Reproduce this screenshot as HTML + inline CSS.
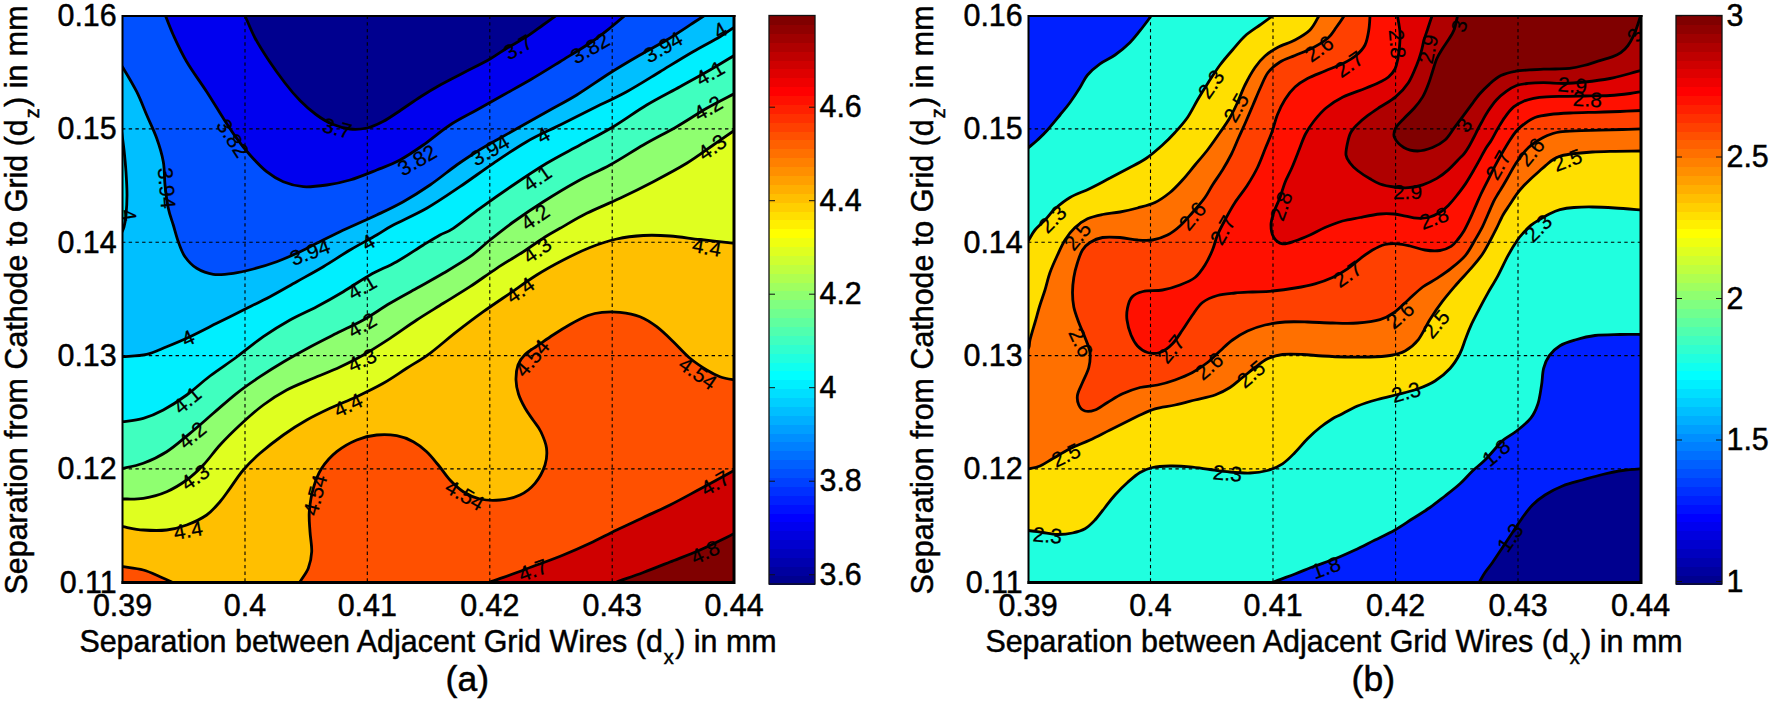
<!DOCTYPE html>
<html lang="en"><head><meta charset="utf-8"><title>Contour plots</title>
<style>html,body{margin:0;padding:0;background:#fff}svg{display:block}text{font-family:"Liberation Sans",Arial,Helvetica,sans-serif;fill:#000}.t{font-size:32px;stroke:#000;stroke-width:.5px}.l{font-size:32px;stroke:#000;stroke-width:.5px}.c{font-size:21px;stroke:#000;stroke-width:.25px}.k{fill:none;stroke:#000;stroke-width:2.8;stroke-linejoin:round;stroke-linecap:butt}.g{stroke:#000;stroke-width:1.1;stroke-dasharray:3.4 3.3;fill:none}</style></head><body>
<svg width="1770" height="703" viewBox="0 0 1770 703">
<rect width="1770" height="703" fill="#fff"/>
<clipPath id="cpa"><rect x="122.0" y="15.5" width="612.5" height="567.5"/></clipPath>
<g clip-path="url(#cpa)">
<path d="M118 10 H740 V590 H118 Z" fill="#800000"/>
<path d="M600.0 588.0 C602.8 587.0 609.5 584.6 616.7 582.0 C623.9 579.4 634.4 575.8 643.3 572.5 C652.2 569.2 660.5 565.8 670.0 562.0 C679.5 558.2 689.2 554.8 700.0 550.0 C710.8 545.2 728.3 536.5 735.0 533.3 C741.7 530.1 739.2 531.4 740.0 531.0 L740.0 10.0 L118.0 10.0 L118.0 590.0 Z" fill="#cf0000"/>
<path d="M475.0 588.0 C477.5 587.0 484.2 584.2 490.0 582.0 C495.8 579.8 502.2 577.8 510.0 575.0 C517.8 572.2 527.8 568.3 536.7 565.0 C545.6 561.7 554.4 558.6 563.3 555.0 C572.2 551.4 581.1 547.5 590.0 543.3 C598.9 539.1 607.8 534.3 616.7 530.0 C625.6 525.7 634.4 521.7 643.3 517.5 C652.2 513.3 660.5 509.8 670.0 505.0 C679.5 500.2 689.2 494.8 700.0 489.0 C710.8 483.2 728.3 473.7 735.0 470.0 C741.7 466.3 739.2 467.5 740.0 467.0 L740.0 10.0 L118.0 10.0 L118.0 590.0 Z" fill="#ff5000"/>
<path d="M297.0 590.0 C297.5 588.7 298.1 585.6 300.0 582.0 C301.9 578.4 306.4 573.3 308.3 568.3 C310.2 563.2 311.4 557.8 311.7 551.7 C312.0 545.6 310.4 538.4 310.0 531.7 C309.6 525.0 308.8 518.9 309.3 511.7 C309.9 504.5 311.2 495.5 313.3 488.3 C315.4 481.1 317.8 474.4 321.7 468.3 C325.6 462.2 330.9 456.4 336.7 451.7 C342.5 447.0 350.0 442.8 356.7 440.0 C363.4 437.2 370.0 435.7 376.7 435.0 C383.4 434.3 390.6 434.6 396.7 435.7 C402.8 436.8 408.3 439.0 413.3 441.7 C418.3 444.4 422.5 447.8 426.7 451.7 C430.9 455.6 434.4 460.3 438.3 465.0 C442.2 469.7 445.8 475.6 450.0 480.0 C454.2 484.4 458.3 488.5 463.3 491.7 C468.3 494.9 473.9 497.6 480.0 499.0 C486.1 500.4 493.3 500.7 500.0 500.0 C506.7 499.3 514.2 497.8 520.0 495.0 C525.8 492.2 530.8 488.3 535.0 483.3 C539.2 478.3 543.1 470.9 545.0 465.0 C546.9 459.1 547.2 453.5 546.5 448.0 C545.8 442.5 543.2 436.7 541.0 432.0 C538.8 427.3 535.7 424.0 533.0 420.0 C530.3 416.0 527.4 412.3 525.0 408.0 C522.6 403.7 520.0 398.7 518.5 394.0 C517.0 389.3 516.1 384.8 516.0 380.0 C515.9 375.2 516.5 369.2 518.0 365.0 C519.5 360.8 521.8 357.7 525.0 354.5 C528.2 351.3 532.3 349.2 537.0 346.0 C541.7 342.8 547.5 338.6 553.0 335.0 C558.5 331.4 564.2 327.8 570.0 324.5 C575.8 321.2 582.7 317.5 588.0 315.5 C593.3 313.5 596.7 312.8 602.0 312.3 C607.3 311.8 613.7 311.6 620.0 312.3 C626.3 313.0 633.9 314.3 640.0 316.7 C646.1 319.1 651.2 322.5 656.7 326.7 C662.2 330.9 667.8 336.4 673.3 341.7 C678.8 347.0 684.4 353.6 690.0 358.3 C695.6 363.0 701.7 366.9 706.7 370.0 C711.7 373.1 715.3 375.0 720.0 376.7 C724.7 378.4 731.7 379.4 735.0 380.0 C738.3 380.6 739.2 380.4 740.0 380.5 L740.0 10.0 L118.0 10.0 L118.0 590.0 Z" fill="#ffbf00"/>
<path d="M118.0 566.0 C118.8 566.1 118.8 566.0 123.0 566.7 C127.2 567.4 137.1 568.3 143.3 570.0 C149.5 571.7 155.3 574.7 160.0 576.7 C164.7 578.7 168.7 580.5 171.7 582.0 C174.7 583.5 176.9 585.3 178.0 586.0 L118.0 590.0 Z" fill="#ff5000"/>
<path d="M118.0 526.0 C118.8 526.1 118.8 526.0 123.0 526.7 C127.2 527.4 136.0 529.5 143.3 530.0 C150.6 530.5 159.5 530.8 166.7 530.0 C173.9 529.2 180.0 527.5 186.7 525.0 C193.4 522.5 201.1 518.9 206.7 515.0 C212.2 511.1 216.1 506.1 220.0 501.7 C223.9 497.2 226.1 493.6 230.0 488.3 C233.9 483.0 238.3 475.8 243.3 470.0 C248.3 464.2 253.3 459.1 260.0 453.3 C266.7 447.5 275.5 440.6 283.3 435.0 C291.1 429.4 298.9 424.4 306.7 420.0 C314.5 415.6 321.7 412.2 330.0 408.3 C338.3 404.4 347.8 400.9 356.7 396.7 C365.6 392.5 375.0 388.0 383.3 383.3 C391.6 378.6 398.9 373.3 406.7 368.3 C414.5 363.3 421.7 359.4 430.0 353.3 C438.3 347.2 447.8 338.6 456.7 331.7 C465.6 324.8 474.4 318.1 483.3 311.7 C492.2 305.3 501.1 299.4 510.0 293.3 C518.9 287.2 527.8 280.6 536.7 275.0 C545.6 269.4 554.4 264.6 563.3 260.0 C572.2 255.4 581.1 251.0 590.0 247.5 C598.9 244.0 607.8 241.0 616.7 239.0 C625.6 237.0 634.4 236.0 643.3 235.5 C652.2 235.0 660.5 235.3 670.0 236.0 C679.5 236.7 689.2 238.3 700.0 239.5 C710.8 240.7 728.3 242.6 735.0 243.3 C741.7 244.1 739.2 243.9 740.0 244.0 L740.0 10.0 L118.0 10.0 Z" fill="#dfff20"/>
<path d="M118.0 499.0 C118.8 499.0 118.8 499.1 123.0 499.0 C127.2 498.9 136.0 499.5 143.3 498.3 C150.6 497.1 159.5 494.8 166.7 491.7 C173.9 488.6 180.6 484.4 186.7 480.0 C192.8 475.6 197.8 470.8 203.3 465.0 C208.9 459.2 213.9 451.7 220.0 445.0 C226.1 438.3 232.8 431.7 240.0 425.0 C247.2 418.3 255.5 410.8 263.3 405.0 C271.1 399.2 278.4 394.4 286.7 390.0 C295.0 385.6 304.4 382.1 313.3 378.3 C322.2 374.5 331.7 370.9 340.0 367.0 C348.3 363.1 355.0 359.8 363.3 355.0 C371.6 350.2 381.1 344.1 390.0 338.3 C398.9 332.5 407.8 325.8 416.7 320.0 C425.6 314.2 434.4 308.9 443.3 303.3 C452.2 297.8 461.1 292.5 470.0 286.7 C478.9 280.9 487.8 274.1 496.7 268.3 C505.6 262.5 515.2 256.9 523.3 251.7 C531.3 246.5 538.9 240.9 545.0 237.0 C551.1 233.1 553.0 232.2 560.0 228.3 C567.0 224.4 576.7 218.3 586.7 213.3 C596.7 208.3 608.9 203.6 620.0 198.3 C631.1 193.0 642.2 187.5 653.3 181.7 C664.4 175.9 676.7 169.4 686.7 163.3 C696.7 157.2 705.2 150.6 713.3 145.0 C721.3 139.4 730.5 133.1 735.0 130.0 C739.5 126.9 739.2 127.1 740.0 126.5 L740.0 10.0 L118.0 10.0 Z" fill="#8fff70"/>
<path d="M118.0 469.0 C118.8 468.9 118.8 469.2 123.0 468.3 C127.2 467.4 136.0 466.1 143.3 463.3 C150.6 460.5 158.9 456.7 166.7 451.7 C174.5 446.7 182.2 439.7 190.0 433.3 C197.8 426.9 205.5 420.0 213.3 413.3 C221.1 406.6 228.9 399.4 236.7 393.3 C244.5 387.2 252.2 381.9 260.0 376.7 C267.8 371.5 275.0 366.9 283.3 362.0 C291.6 357.1 301.1 351.8 310.0 347.0 C318.9 342.2 327.8 337.8 336.7 333.3 C345.6 328.8 354.4 325.0 363.3 320.0 C372.2 315.0 381.1 308.6 390.0 303.3 C398.9 298.0 407.8 293.3 416.7 288.3 C425.6 283.3 434.4 278.6 443.3 273.3 C452.2 268.0 462.2 262.2 470.0 256.7 C477.8 251.1 482.8 245.8 490.0 240.0 C497.2 234.2 504.4 228.4 513.3 222.0 C522.2 215.6 532.7 208.4 543.3 201.7 C553.9 195.0 565.6 187.8 576.7 181.7 C587.8 175.6 598.9 171.1 610.0 165.0 C621.1 158.9 632.2 151.4 643.3 145.0 C654.4 138.6 666.1 132.8 676.7 126.7 C687.3 120.6 697.0 113.9 706.7 108.3 C716.4 102.7 729.5 96.3 735.0 93.3 C740.5 90.3 739.2 91.0 740.0 90.5 L740.0 10.0 L118.0 10.0 Z" fill="#40ffbf"/>
<path d="M118.0 422.0 C118.8 421.9 118.8 422.3 123.0 421.7 C127.2 421.1 136.6 420.2 143.3 418.3 C150.0 416.4 156.1 413.9 163.3 410.0 C170.5 406.1 178.9 400.7 186.7 395.0 C194.5 389.3 201.7 382.3 210.0 376.0 C218.3 369.7 227.8 363.6 236.7 357.0 C245.6 350.4 254.4 342.9 263.3 336.7 C272.2 330.5 281.1 325.0 290.0 320.0 C298.9 315.0 307.8 311.4 316.7 306.7 C325.6 302.0 334.4 297.0 343.3 291.7 C352.2 286.4 361.1 280.0 370.0 275.0 C378.9 270.0 387.8 266.7 396.7 261.7 C405.6 256.7 416.1 249.4 423.3 245.0 C430.5 240.6 435.0 237.8 440.0 235.0 C445.0 232.2 446.6 232.8 453.3 228.3 C460.0 223.9 470.0 215.5 480.0 208.3 C490.0 201.1 502.2 192.5 513.3 185.0 C524.4 177.5 535.6 170.0 546.7 163.3 C557.8 156.6 568.9 151.1 580.0 145.0 C591.1 138.9 602.2 133.4 613.3 126.7 C624.4 120.0 635.6 111.7 646.7 105.0 C657.8 98.3 669.5 92.5 680.0 86.7 C690.5 80.9 700.8 75.3 710.0 70.0 C719.2 64.7 730.0 58.0 735.0 55.0 C740.0 52.0 739.2 52.5 740.0 52.0 L740.0 10.0 L118.0 10.0 Z" fill="#00efff"/>
<path d="M118.0 357.0 C118.8 356.9 118.2 357.1 123.0 356.7 C127.8 356.2 139.4 356.0 146.7 354.3 C154.0 352.6 159.5 349.6 166.7 346.7 C173.9 343.8 181.7 340.6 190.0 336.7 C198.3 332.8 207.8 327.8 216.7 323.3 C225.6 318.9 234.4 314.4 243.3 310.0 C252.2 305.6 261.1 301.4 270.0 296.7 C278.9 292.0 287.8 286.7 296.7 281.7 C305.6 276.7 314.4 272.0 323.3 266.7 C332.2 261.4 341.1 255.3 350.0 250.0 C358.9 244.7 369.5 239.2 376.7 235.0 C383.9 230.8 385.0 229.4 393.3 225.0 C401.6 220.6 415.6 214.7 426.7 208.3 C437.8 201.9 448.9 194.2 460.0 186.7 C471.1 179.2 482.2 170.8 493.3 163.3 C504.4 155.8 515.6 148.1 526.7 141.7 C537.8 135.3 548.9 130.6 560.0 125.0 C571.1 119.4 582.2 113.8 593.3 108.3 C604.4 102.8 615.6 97.8 626.7 91.7 C637.8 85.6 649.0 78.4 660.0 71.7 C671.0 65.0 683.0 57.5 693.0 51.7 C703.0 45.9 713.0 40.9 720.0 36.7 C727.0 32.5 731.7 28.9 735.0 26.7 C738.3 24.5 739.2 24.0 740.0 23.5 L740.0 10.0 L118.0 10.0 Z" fill="#00bfff"/>
<path d="M121.0 127.0 C121.5 130.8 123.2 142.5 124.0 150.0 C124.8 157.5 125.5 164.5 126.0 172.0 C126.5 179.5 127.0 187.8 127.0 195.0 C127.0 202.2 126.5 209.7 126.0 215.0 C125.5 220.3 124.8 223.8 124.0 227.0 C123.2 230.2 121.5 232.8 121.0 234.0 Z" fill="#00efff"/>
<path d="M119.0 63.0 C119.7 63.9 120.3 63.5 123.3 68.3 C126.2 73.1 132.8 83.9 136.7 91.7 C140.6 99.5 143.4 107.2 146.7 115.0 C150.0 122.8 153.9 130.5 156.7 138.3 C159.5 146.1 161.9 153.9 163.3 161.7 C164.7 169.5 164.2 177.2 165.0 185.0 C165.8 192.8 166.9 201.6 168.3 208.3 C169.7 215.0 171.6 219.4 173.3 225.0 C175.0 230.6 176.4 236.4 178.3 241.7 C180.2 247.0 181.9 252.3 185.0 256.7 C188.1 261.1 192.0 265.4 196.7 268.3 C201.4 271.2 207.2 273.5 213.3 274.3 C219.4 275.1 226.6 274.2 233.3 273.3 C240.0 272.4 246.1 270.9 253.3 269.0 C260.5 267.1 269.5 264.3 276.7 261.7 C283.9 259.1 290.0 256.4 296.7 253.3 C303.4 250.2 309.5 246.9 316.7 243.3 C323.9 239.7 330.0 236.4 340.0 231.7 C350.0 227.0 366.1 220.0 376.7 215.0 C387.2 210.0 394.4 206.7 403.3 201.7 C412.2 196.7 421.1 191.1 430.0 185.0 C438.9 178.9 448.9 170.6 456.7 165.0 C464.5 159.4 470.0 155.9 476.7 151.7 C483.4 147.5 488.9 144.4 496.7 140.0 C504.5 135.6 514.4 130.0 523.3 125.0 C532.2 120.0 541.1 115.0 550.0 110.0 C558.9 105.0 566.7 101.2 576.7 95.0 C586.7 88.8 599.5 79.7 610.0 73.0 C620.5 66.3 630.5 60.5 640.0 55.0 C649.5 49.5 657.9 45.3 666.7 40.0 C675.5 34.7 685.8 27.7 693.0 23.0 C700.2 18.3 707.2 13.8 710.0 12.0 L118.0 10.0 Z" fill="#0050ff"/>
<path d="M164.0 12.0 C165.6 15.8 169.5 26.7 173.3 35.0 C177.1 43.3 181.1 52.2 186.7 61.7 C192.3 71.2 200.6 82.3 206.7 91.7 C212.8 101.1 218.3 110.5 223.3 118.3 C228.3 126.1 232.2 132.2 236.7 138.3 C241.1 144.4 245.0 149.4 250.0 155.0 C255.0 160.6 261.1 167.2 266.7 171.7 C272.2 176.1 277.2 179.2 283.3 181.7 C289.4 184.2 296.1 186.1 303.3 186.7 C310.5 187.2 318.9 186.1 326.7 185.0 C334.5 183.9 341.7 182.5 350.0 180.0 C358.3 177.5 368.4 173.3 376.7 170.0 C385.0 166.7 392.2 164.2 400.0 160.0 C407.8 155.8 415.0 150.8 423.3 145.0 C431.6 139.2 441.1 130.8 450.0 125.0 C458.9 119.2 467.8 115.0 476.7 110.0 C485.6 105.0 494.4 100.0 503.3 95.0 C512.2 90.0 520.5 85.5 530.0 80.0 C539.5 74.5 550.0 67.9 560.0 61.7 C570.0 55.5 581.7 48.6 590.0 43.0 C598.3 37.4 603.5 33.2 610.0 28.0 C616.5 22.8 625.8 14.7 629.0 12.0 Z" fill="#0000ef"/>
<path d="M243.0 12.0 C243.4 12.8 243.5 12.7 245.5 17.0 C247.5 21.3 251.2 30.8 255.0 38.0 C258.8 45.2 263.5 52.5 268.5 60.0 C273.5 67.5 279.8 76.2 285.0 83.0 C290.2 89.8 294.8 95.2 300.0 100.5 C305.2 105.8 310.7 110.6 316.0 114.5 C321.3 118.4 326.3 121.6 332.0 124.0 C337.7 126.4 344.2 128.3 350.0 129.0 C355.8 129.7 361.5 129.2 367.0 128.0 C372.5 126.8 377.3 124.5 383.0 121.5 C388.7 118.5 394.7 114.2 401.0 110.0 C407.3 105.8 414.3 100.8 421.0 96.5 C427.7 92.2 433.7 88.6 441.0 84.5 C448.3 80.4 456.8 76.2 465.0 72.0 C473.2 67.8 483.1 63.0 490.0 59.0 C496.9 55.0 500.6 52.0 506.7 48.3 C512.8 44.6 520.7 40.6 526.7 36.7 C532.8 32.8 537.3 29.1 543.0 25.0 C548.7 20.9 558.0 14.2 561.0 12.0 Z" fill="#00008f"/>
<path class="k" d="M243.0 12.0 C243.4 12.8 243.5 12.7 245.5 17.0 C247.5 21.3 251.2 30.8 255.0 38.0 C258.8 45.2 263.5 52.5 268.5 60.0 C273.5 67.5 279.8 76.2 285.0 83.0 C290.2 89.8 294.8 95.2 300.0 100.5 C305.2 105.8 310.7 110.6 316.0 114.5 C321.3 118.4 326.3 121.6 332.0 124.0 C337.7 126.4 344.2 128.3 350.0 129.0 C355.8 129.7 361.5 129.2 367.0 128.0 C372.5 126.8 377.3 124.5 383.0 121.5 C388.7 118.5 394.7 114.2 401.0 110.0 C407.3 105.8 414.3 100.8 421.0 96.5 C427.7 92.2 433.7 88.6 441.0 84.5 C448.3 80.4 456.8 76.2 465.0 72.0 C473.2 67.8 483.1 63.0 490.0 59.0 C496.9 55.0 500.6 52.0 506.7 48.3 C512.8 44.6 520.7 40.6 526.7 36.7 C532.8 32.8 537.3 29.1 543.0 25.0 C548.7 20.9 558.0 14.2 561.0 12.0"/>
<path class="k" d="M164.0 12.0 C165.6 15.8 169.5 26.7 173.3 35.0 C177.1 43.3 181.1 52.2 186.7 61.7 C192.3 71.2 200.6 82.3 206.7 91.7 C212.8 101.1 218.3 110.5 223.3 118.3 C228.3 126.1 232.2 132.2 236.7 138.3 C241.1 144.4 245.0 149.4 250.0 155.0 C255.0 160.6 261.1 167.2 266.7 171.7 C272.2 176.1 277.2 179.2 283.3 181.7 C289.4 184.2 296.1 186.1 303.3 186.7 C310.5 187.2 318.9 186.1 326.7 185.0 C334.5 183.9 341.7 182.5 350.0 180.0 C358.3 177.5 368.4 173.3 376.7 170.0 C385.0 166.7 392.2 164.2 400.0 160.0 C407.8 155.8 415.0 150.8 423.3 145.0 C431.6 139.2 441.1 130.8 450.0 125.0 C458.9 119.2 467.8 115.0 476.7 110.0 C485.6 105.0 494.4 100.0 503.3 95.0 C512.2 90.0 520.5 85.5 530.0 80.0 C539.5 74.5 550.0 67.9 560.0 61.7 C570.0 55.5 581.7 48.6 590.0 43.0 C598.3 37.4 603.5 33.2 610.0 28.0 C616.5 22.8 625.8 14.7 629.0 12.0"/>
<path class="k" d="M119.0 63.0 C119.7 63.9 120.3 63.5 123.3 68.3 C126.2 73.1 132.8 83.9 136.7 91.7 C140.6 99.5 143.4 107.2 146.7 115.0 C150.0 122.8 153.9 130.5 156.7 138.3 C159.5 146.1 161.9 153.9 163.3 161.7 C164.7 169.5 164.2 177.2 165.0 185.0 C165.8 192.8 166.9 201.6 168.3 208.3 C169.7 215.0 171.6 219.4 173.3 225.0 C175.0 230.6 176.4 236.4 178.3 241.7 C180.2 247.0 181.9 252.3 185.0 256.7 C188.1 261.1 192.0 265.4 196.7 268.3 C201.4 271.2 207.2 273.5 213.3 274.3 C219.4 275.1 226.6 274.2 233.3 273.3 C240.0 272.4 246.1 270.9 253.3 269.0 C260.5 267.1 269.5 264.3 276.7 261.7 C283.9 259.1 290.0 256.4 296.7 253.3 C303.4 250.2 309.5 246.9 316.7 243.3 C323.9 239.7 330.0 236.4 340.0 231.7 C350.0 227.0 366.1 220.0 376.7 215.0 C387.2 210.0 394.4 206.7 403.3 201.7 C412.2 196.7 421.1 191.1 430.0 185.0 C438.9 178.9 448.9 170.6 456.7 165.0 C464.5 159.4 470.0 155.9 476.7 151.7 C483.4 147.5 488.9 144.4 496.7 140.0 C504.5 135.6 514.4 130.0 523.3 125.0 C532.2 120.0 541.1 115.0 550.0 110.0 C558.9 105.0 566.7 101.2 576.7 95.0 C586.7 88.8 599.5 79.7 610.0 73.0 C620.5 66.3 630.5 60.5 640.0 55.0 C649.5 49.5 657.9 45.3 666.7 40.0 C675.5 34.7 685.8 27.7 693.0 23.0 C700.2 18.3 707.2 13.8 710.0 12.0"/>
<path class="k" d="M118.0 357.0 C118.8 356.9 118.2 357.1 123.0 356.7 C127.8 356.2 139.4 356.0 146.7 354.3 C154.0 352.6 159.5 349.6 166.7 346.7 C173.9 343.8 181.7 340.6 190.0 336.7 C198.3 332.8 207.8 327.8 216.7 323.3 C225.6 318.9 234.4 314.4 243.3 310.0 C252.2 305.6 261.1 301.4 270.0 296.7 C278.9 292.0 287.8 286.7 296.7 281.7 C305.6 276.7 314.4 272.0 323.3 266.7 C332.2 261.4 341.1 255.3 350.0 250.0 C358.9 244.7 369.5 239.2 376.7 235.0 C383.9 230.8 385.0 229.4 393.3 225.0 C401.6 220.6 415.6 214.7 426.7 208.3 C437.8 201.9 448.9 194.2 460.0 186.7 C471.1 179.2 482.2 170.8 493.3 163.3 C504.4 155.8 515.6 148.1 526.7 141.7 C537.8 135.3 548.9 130.6 560.0 125.0 C571.1 119.4 582.2 113.8 593.3 108.3 C604.4 102.8 615.6 97.8 626.7 91.7 C637.8 85.6 649.0 78.4 660.0 71.7 C671.0 65.0 683.0 57.5 693.0 51.7 C703.0 45.9 713.0 40.9 720.0 36.7 C727.0 32.5 731.7 28.9 735.0 26.7 C738.3 24.5 739.2 24.0 740.0 23.5"/>
<path class="k" d="M121.0 127.0 C121.5 130.8 123.2 142.5 124.0 150.0 C124.8 157.5 125.5 164.5 126.0 172.0 C126.5 179.5 127.0 187.8 127.0 195.0 C127.0 202.2 126.5 209.7 126.0 215.0 C125.5 220.3 124.8 223.8 124.0 227.0 C123.2 230.2 121.5 232.8 121.0 234.0"/>
<path class="k" d="M118.0 422.0 C118.8 421.9 118.8 422.3 123.0 421.7 C127.2 421.1 136.6 420.2 143.3 418.3 C150.0 416.4 156.1 413.9 163.3 410.0 C170.5 406.1 178.9 400.7 186.7 395.0 C194.5 389.3 201.7 382.3 210.0 376.0 C218.3 369.7 227.8 363.6 236.7 357.0 C245.6 350.4 254.4 342.9 263.3 336.7 C272.2 330.5 281.1 325.0 290.0 320.0 C298.9 315.0 307.8 311.4 316.7 306.7 C325.6 302.0 334.4 297.0 343.3 291.7 C352.2 286.4 361.1 280.0 370.0 275.0 C378.9 270.0 387.8 266.7 396.7 261.7 C405.6 256.7 416.1 249.4 423.3 245.0 C430.5 240.6 435.0 237.8 440.0 235.0 C445.0 232.2 446.6 232.8 453.3 228.3 C460.0 223.9 470.0 215.5 480.0 208.3 C490.0 201.1 502.2 192.5 513.3 185.0 C524.4 177.5 535.6 170.0 546.7 163.3 C557.8 156.6 568.9 151.1 580.0 145.0 C591.1 138.9 602.2 133.4 613.3 126.7 C624.4 120.0 635.6 111.7 646.7 105.0 C657.8 98.3 669.5 92.5 680.0 86.7 C690.5 80.9 700.8 75.3 710.0 70.0 C719.2 64.7 730.0 58.0 735.0 55.0 C740.0 52.0 739.2 52.5 740.0 52.0"/>
<path class="k" d="M118.0 469.0 C118.8 468.9 118.8 469.2 123.0 468.3 C127.2 467.4 136.0 466.1 143.3 463.3 C150.6 460.5 158.9 456.7 166.7 451.7 C174.5 446.7 182.2 439.7 190.0 433.3 C197.8 426.9 205.5 420.0 213.3 413.3 C221.1 406.6 228.9 399.4 236.7 393.3 C244.5 387.2 252.2 381.9 260.0 376.7 C267.8 371.5 275.0 366.9 283.3 362.0 C291.6 357.1 301.1 351.8 310.0 347.0 C318.9 342.2 327.8 337.8 336.7 333.3 C345.6 328.8 354.4 325.0 363.3 320.0 C372.2 315.0 381.1 308.6 390.0 303.3 C398.9 298.0 407.8 293.3 416.7 288.3 C425.6 283.3 434.4 278.6 443.3 273.3 C452.2 268.0 462.2 262.2 470.0 256.7 C477.8 251.1 482.8 245.8 490.0 240.0 C497.2 234.2 504.4 228.4 513.3 222.0 C522.2 215.6 532.7 208.4 543.3 201.7 C553.9 195.0 565.6 187.8 576.7 181.7 C587.8 175.6 598.9 171.1 610.0 165.0 C621.1 158.9 632.2 151.4 643.3 145.0 C654.4 138.6 666.1 132.8 676.7 126.7 C687.3 120.6 697.0 113.9 706.7 108.3 C716.4 102.7 729.5 96.3 735.0 93.3 C740.5 90.3 739.2 91.0 740.0 90.5"/>
<path class="k" d="M118.0 499.0 C118.8 499.0 118.8 499.1 123.0 499.0 C127.2 498.9 136.0 499.5 143.3 498.3 C150.6 497.1 159.5 494.8 166.7 491.7 C173.9 488.6 180.6 484.4 186.7 480.0 C192.8 475.6 197.8 470.8 203.3 465.0 C208.9 459.2 213.9 451.7 220.0 445.0 C226.1 438.3 232.8 431.7 240.0 425.0 C247.2 418.3 255.5 410.8 263.3 405.0 C271.1 399.2 278.4 394.4 286.7 390.0 C295.0 385.6 304.4 382.1 313.3 378.3 C322.2 374.5 331.7 370.9 340.0 367.0 C348.3 363.1 355.0 359.8 363.3 355.0 C371.6 350.2 381.1 344.1 390.0 338.3 C398.9 332.5 407.8 325.8 416.7 320.0 C425.6 314.2 434.4 308.9 443.3 303.3 C452.2 297.8 461.1 292.5 470.0 286.7 C478.9 280.9 487.8 274.1 496.7 268.3 C505.6 262.5 515.2 256.9 523.3 251.7 C531.3 246.5 538.9 240.9 545.0 237.0 C551.1 233.1 553.0 232.2 560.0 228.3 C567.0 224.4 576.7 218.3 586.7 213.3 C596.7 208.3 608.9 203.6 620.0 198.3 C631.1 193.0 642.2 187.5 653.3 181.7 C664.4 175.9 676.7 169.4 686.7 163.3 C696.7 157.2 705.2 150.6 713.3 145.0 C721.3 139.4 730.5 133.1 735.0 130.0 C739.5 126.9 739.2 127.1 740.0 126.5"/>
<path class="k" d="M118.0 526.0 C118.8 526.1 118.8 526.0 123.0 526.7 C127.2 527.4 136.0 529.5 143.3 530.0 C150.6 530.5 159.5 530.8 166.7 530.0 C173.9 529.2 180.0 527.5 186.7 525.0 C193.4 522.5 201.1 518.9 206.7 515.0 C212.2 511.1 216.1 506.1 220.0 501.7 C223.9 497.2 226.1 493.6 230.0 488.3 C233.9 483.0 238.3 475.8 243.3 470.0 C248.3 464.2 253.3 459.1 260.0 453.3 C266.7 447.5 275.5 440.6 283.3 435.0 C291.1 429.4 298.9 424.4 306.7 420.0 C314.5 415.6 321.7 412.2 330.0 408.3 C338.3 404.4 347.8 400.9 356.7 396.7 C365.6 392.5 375.0 388.0 383.3 383.3 C391.6 378.6 398.9 373.3 406.7 368.3 C414.5 363.3 421.7 359.4 430.0 353.3 C438.3 347.2 447.8 338.6 456.7 331.7 C465.6 324.8 474.4 318.1 483.3 311.7 C492.2 305.3 501.1 299.4 510.0 293.3 C518.9 287.2 527.8 280.6 536.7 275.0 C545.6 269.4 554.4 264.6 563.3 260.0 C572.2 255.4 581.1 251.0 590.0 247.5 C598.9 244.0 607.8 241.0 616.7 239.0 C625.6 237.0 634.4 236.0 643.3 235.5 C652.2 235.0 660.5 235.3 670.0 236.0 C679.5 236.7 689.2 238.3 700.0 239.5 C710.8 240.7 728.3 242.6 735.0 243.3 C741.7 244.1 739.2 243.9 740.0 244.0"/>
<path class="k" d="M118.0 566.0 C118.8 566.1 118.8 566.0 123.0 566.7 C127.2 567.4 137.1 568.3 143.3 570.0 C149.5 571.7 155.3 574.7 160.0 576.7 C164.7 578.7 168.7 580.5 171.7 582.0 C174.7 583.5 176.9 585.3 178.0 586.0"/>
<path class="k" d="M297.0 590.0 C297.5 588.7 298.1 585.6 300.0 582.0 C301.9 578.4 306.4 573.3 308.3 568.3 C310.2 563.2 311.4 557.8 311.7 551.7 C312.0 545.6 310.4 538.4 310.0 531.7 C309.6 525.0 308.8 518.9 309.3 511.7 C309.9 504.5 311.2 495.5 313.3 488.3 C315.4 481.1 317.8 474.4 321.7 468.3 C325.6 462.2 330.9 456.4 336.7 451.7 C342.5 447.0 350.0 442.8 356.7 440.0 C363.4 437.2 370.0 435.7 376.7 435.0 C383.4 434.3 390.6 434.6 396.7 435.7 C402.8 436.8 408.3 439.0 413.3 441.7 C418.3 444.4 422.5 447.8 426.7 451.7 C430.9 455.6 434.4 460.3 438.3 465.0 C442.2 469.7 445.8 475.6 450.0 480.0 C454.2 484.4 458.3 488.5 463.3 491.7 C468.3 494.9 473.9 497.6 480.0 499.0 C486.1 500.4 493.3 500.7 500.0 500.0 C506.7 499.3 514.2 497.8 520.0 495.0 C525.8 492.2 530.8 488.3 535.0 483.3 C539.2 478.3 543.1 470.9 545.0 465.0 C546.9 459.1 547.2 453.5 546.5 448.0 C545.8 442.5 543.2 436.7 541.0 432.0 C538.8 427.3 535.7 424.0 533.0 420.0 C530.3 416.0 527.4 412.3 525.0 408.0 C522.6 403.7 520.0 398.7 518.5 394.0 C517.0 389.3 516.1 384.8 516.0 380.0 C515.9 375.2 516.5 369.2 518.0 365.0 C519.5 360.8 521.8 357.7 525.0 354.5 C528.2 351.3 532.3 349.2 537.0 346.0 C541.7 342.8 547.5 338.6 553.0 335.0 C558.5 331.4 564.2 327.8 570.0 324.5 C575.8 321.2 582.7 317.5 588.0 315.5 C593.3 313.5 596.7 312.8 602.0 312.3 C607.3 311.8 613.7 311.6 620.0 312.3 C626.3 313.0 633.9 314.3 640.0 316.7 C646.1 319.1 651.2 322.5 656.7 326.7 C662.2 330.9 667.8 336.4 673.3 341.7 C678.8 347.0 684.4 353.6 690.0 358.3 C695.6 363.0 701.7 366.9 706.7 370.0 C711.7 373.1 715.3 375.0 720.0 376.7 C724.7 378.4 731.7 379.4 735.0 380.0 C738.3 380.6 739.2 380.4 740.0 380.5"/>
<path class="k" d="M475.0 588.0 C477.5 587.0 484.2 584.2 490.0 582.0 C495.8 579.8 502.2 577.8 510.0 575.0 C517.8 572.2 527.8 568.3 536.7 565.0 C545.6 561.7 554.4 558.6 563.3 555.0 C572.2 551.4 581.1 547.5 590.0 543.3 C598.9 539.1 607.8 534.3 616.7 530.0 C625.6 525.7 634.4 521.7 643.3 517.5 C652.2 513.3 660.5 509.8 670.0 505.0 C679.5 500.2 689.2 494.8 700.0 489.0 C710.8 483.2 728.3 473.7 735.0 470.0 C741.7 466.3 739.2 467.5 740.0 467.0"/>
<path class="k" d="M600.0 588.0 C602.8 587.0 609.5 584.6 616.7 582.0 C623.9 579.4 634.4 575.8 643.3 572.5 C652.2 569.2 660.5 565.8 670.0 562.0 C679.5 558.2 689.2 554.8 700.0 550.0 C710.8 545.2 728.3 536.5 735.0 533.3 C741.7 530.1 739.2 531.4 740.0 531.0"/>
</g>
<path class="g" d="M245.0 15.5 V583.0"/>
<path class="g" d="M367.3 15.5 V583.0"/>
<path class="g" d="M489.8 15.5 V583.0"/>
<path class="g" d="M612.2 15.5 V583.0"/>
<path class="g" d="M122.0 128.9 H734.5"/>
<path class="g" d="M122.0 242.2 H734.5"/>
<path class="g" d="M122.0 355.6 H734.5"/>
<path class="g" d="M122.0 468.9 H734.5"/>
<g clip-path="url(#cpa)">
<text class="c" text-anchor="middle" transform="translate(337.0 128.0) rotate(15) scale(1 1)" y="7.5">3.7</text>
<text class="c" text-anchor="middle" transform="translate(518.0 47.0) rotate(-30) scale(1 1)" y="7.5">3.7</text>
<text class="c" text-anchor="middle" transform="translate(233.0 138.0) rotate(57) scale(1 1)" y="7.5">3.82</text>
<text class="c" text-anchor="middle" transform="translate(417.0 160.0) rotate(-30) scale(1 1)" y="7.5">3.82</text>
<text class="c" text-anchor="middle" transform="translate(590.0 48.0) rotate(-30) scale(1 1)" y="7.5">3.82</text>
<text class="c" text-anchor="middle" transform="translate(167.0 188.0) rotate(85) scale(1 1)" y="7.5">3.94</text>
<text class="c" text-anchor="middle" transform="translate(490.0 150.0) rotate(-30) scale(1 1)" y="7.5">3.94</text>
<text class="c" text-anchor="middle" transform="translate(310.0 252.0) rotate(-20) scale(1 1)" y="7.5">3.94</text>
<text class="c" text-anchor="middle" transform="translate(663.0 47.0) rotate(-30) scale(1 1)" y="7.5">3.94</text>
<text class="c" text-anchor="middle" transform="translate(129.0 215.0) rotate(80) scale(1 1)" y="7.5">4</text>
<text class="c" text-anchor="middle" transform="translate(188.0 338.0) rotate(-25) scale(1 1)" y="7.5">4</text>
<text class="c" text-anchor="middle" transform="translate(368.0 242.0) rotate(-30) scale(1 1)" y="7.5">4</text>
<text class="c" text-anchor="middle" transform="translate(543.0 135.0) rotate(-30) scale(1 1)" y="7.5">4</text>
<text class="c" text-anchor="middle" transform="translate(720.0 30.0) rotate(-30) scale(1 1)" y="7.5">4</text>
<text class="c" text-anchor="middle" transform="translate(187.0 400.0) rotate(-40) scale(1 1)" y="7.5">4.1</text>
<text class="c" text-anchor="middle" transform="translate(362.0 287.0) rotate(-30) scale(1 1)" y="7.5">4.1</text>
<text class="c" text-anchor="middle" transform="translate(537.0 178.0) rotate(-35) scale(1 1)" y="7.5">4.1</text>
<text class="c" text-anchor="middle" transform="translate(710.0 73.0) rotate(-30) scale(1 1)" y="7.5">4.1</text>
<text class="c" text-anchor="middle" transform="translate(192.0 435.0) rotate(-40) scale(1 1)" y="7.5">4.2</text>
<text class="c" text-anchor="middle" transform="translate(362.0 325.0) rotate(-30) scale(1 1)" y="7.5">4.2</text>
<text class="c" text-anchor="middle" transform="translate(535.0 217.0) rotate(-35) scale(1 1)" y="7.5">4.2</text>
<text class="c" text-anchor="middle" transform="translate(708.0 108.0) rotate(-30) scale(1 1)" y="7.5">4.2</text>
<text class="c" text-anchor="middle" transform="translate(195.0 477.0) rotate(-35) scale(1 1)" y="7.5">4.3</text>
<text class="c" text-anchor="middle" transform="translate(362.0 360.0) rotate(-25) scale(1 1)" y="7.5">4.3</text>
<text class="c" text-anchor="middle" transform="translate(537.0 250.0) rotate(-35) scale(1 1)" y="7.5">4.3</text>
<text class="c" text-anchor="middle" transform="translate(712.0 147.0) rotate(-35) scale(1 1)" y="7.5">4.3</text>
<text class="c" text-anchor="middle" transform="translate(188.0 530.0) rotate(-10) scale(1 1)" y="7.5">4.4</text>
<text class="c" text-anchor="middle" transform="translate(348.0 405.0) rotate(-25) scale(1 1)" y="7.5">4.4</text>
<text class="c" text-anchor="middle" transform="translate(520.0 290.0) rotate(-35) scale(1 1)" y="7.5">4.4</text>
<text class="c" text-anchor="middle" transform="translate(707.0 247.0) rotate(10) scale(1 1)" y="7.5">4.4</text>
<text class="c" text-anchor="middle" transform="translate(315.0 495.0) rotate(-75) scale(1 1)" y="7.5">4.54</text>
<text class="c" text-anchor="middle" transform="translate(465.0 495.0) rotate(30) scale(1 1)" y="7.5">4.54</text>
<text class="c" text-anchor="middle" transform="translate(532.0 358.0) rotate(-50) scale(1 1)" y="7.5">4.54</text>
<text class="c" text-anchor="middle" transform="translate(698.0 373.0) rotate(35) scale(1 1)" y="7.5">4.54</text>
<text class="c" text-anchor="middle" transform="translate(533.0 570.0) rotate(-20) scale(1 1)" y="7.5">4.7</text>
<text class="c" text-anchor="middle" transform="translate(715.0 483.0) rotate(-30) scale(1 1)" y="7.5">4.7</text>
<text class="c" text-anchor="middle" transform="translate(705.0 552.0) rotate(-25) scale(1 1)" y="7.5">4.8</text>
</g>
<path d="M122.5 15.0 V584.0 M121.5 16.0 H735.5" stroke="#000" stroke-width="2" fill="none"/>
<path d="M734.0 15.0 V584.0 M121.5 582.5 H735.5" stroke="#000" stroke-width="3" fill="none"/>
<clipPath id="cpb"><rect x="1028.0" y="15.5" width="613.5" height="567.5"/></clipPath>
<g clip-path="url(#cpb)">
<path d="M1024 10 H1647 V590 H1024 Z" fill="#20ffdf"/>
<path d="M1024.0 152.0 C1024.8 151.2 1026.5 149.5 1028.8 147.5 C1031.0 145.5 1034.4 142.9 1037.5 140.0 C1040.6 137.1 1043.8 134.2 1047.5 130.0 C1051.2 125.8 1056.2 119.6 1060.0 115.0 C1063.8 110.4 1066.7 107.1 1070.0 102.5 C1073.3 97.9 1077.1 92.1 1080.0 87.5 C1082.9 82.9 1084.2 79.0 1087.5 75.0 C1090.8 71.0 1095.4 67.1 1100.0 63.8 C1104.6 60.5 1110.0 58.5 1115.0 55.0 C1120.0 51.5 1125.4 47.1 1130.0 42.5 C1134.6 37.9 1139.0 31.9 1142.5 27.5 C1146.0 23.1 1149.1 18.8 1151.0 16.0 C1152.9 13.2 1153.5 11.8 1154.0 11.0 L1024.0 10.0 Z" fill="#0020ff"/>
<path d="M1262.0 587.0 C1264.3 586.0 1270.5 583.2 1276.0 581.0 C1281.5 578.8 1288.5 576.5 1295.0 574.0 C1301.5 571.5 1308.3 568.5 1315.0 566.0 C1321.7 563.5 1328.3 561.5 1335.0 558.8 C1341.7 556.1 1348.3 553.1 1355.0 550.0 C1361.7 546.9 1368.3 543.3 1375.0 540.0 C1381.7 536.7 1388.8 533.5 1395.0 530.0 C1401.2 526.5 1406.7 522.5 1412.5 518.8 C1418.3 515.0 1424.6 511.3 1430.0 507.5 C1435.4 503.7 1440.0 499.9 1445.0 496.0 C1450.0 492.1 1455.4 488.0 1460.0 483.8 C1464.6 479.6 1468.3 475.0 1472.5 471.0 C1476.7 467.0 1480.8 464.2 1485.0 460.0 C1489.2 455.8 1494.4 449.4 1497.5 446.0 C1500.6 442.6 1500.6 442.1 1503.8 439.6 C1507.0 437.1 1512.1 434.6 1516.6 431.0 C1521.1 427.4 1527.2 422.7 1530.8 418.2 C1534.3 413.7 1536.1 409.4 1537.9 404.0 C1539.7 398.6 1540.5 391.4 1541.5 385.5 C1542.5 379.6 1542.3 373.4 1543.6 368.4 C1544.9 363.4 1546.6 359.4 1549.3 355.6 C1552.0 351.8 1555.7 348.3 1560.0 345.7 C1564.3 343.1 1569.2 341.7 1575.0 340.0 C1580.8 338.3 1587.5 336.4 1595.0 335.5 C1602.5 334.6 1612.1 334.7 1620.0 334.5 C1627.9 334.3 1637.8 334.5 1642.5 334.5 C1647.2 334.5 1647.1 334.5 1648.0 334.5 L1647.0 590.0 Z" fill="#0020ff"/>
<path d="M1476.0 588.0 C1476.7 586.8 1478.5 583.6 1480.0 581.0 C1481.5 578.4 1482.9 575.6 1485.0 572.5 C1487.1 569.4 1489.6 566.7 1492.5 562.5 C1495.4 558.3 1499.2 552.5 1502.5 547.5 C1505.8 542.5 1509.2 537.5 1512.5 532.5 C1515.8 527.5 1519.2 522.1 1522.5 517.5 C1525.8 512.9 1528.8 508.8 1532.5 505.0 C1536.2 501.2 1540.0 498.2 1545.0 495.0 C1550.0 491.8 1556.2 488.5 1562.5 486.0 C1568.8 483.5 1575.8 481.9 1582.5 480.0 C1589.2 478.1 1595.8 476.1 1602.5 474.5 C1609.2 472.9 1615.8 471.4 1622.5 470.5 C1629.2 469.6 1638.2 469.1 1642.5 468.8 C1646.8 468.5 1647.1 468.6 1648.0 468.5 L1647.0 590.0 Z" fill="#00008f"/>
<path d="M1024.0 247.0 C1024.8 245.8 1027.0 242.8 1028.8 240.0 C1030.6 237.2 1032.3 233.3 1035.0 230.0 C1037.7 226.7 1041.7 223.5 1045.0 220.0 C1048.3 216.5 1050.8 212.6 1055.0 208.8 C1059.2 205.1 1064.2 200.9 1070.0 197.5 C1075.8 194.1 1083.3 191.8 1090.0 188.5 C1096.7 185.2 1103.5 181.4 1110.0 178.0 C1116.5 174.6 1123.0 171.2 1129.0 168.0 C1135.0 164.8 1140.4 162.3 1146.0 158.5 C1151.6 154.7 1157.7 149.3 1162.5 145.0 C1167.3 140.7 1170.8 137.1 1175.0 132.5 C1179.2 127.9 1183.8 122.9 1187.5 117.5 C1191.2 112.1 1194.2 105.6 1197.5 100.0 C1200.8 94.4 1203.8 89.6 1207.5 83.8 C1211.2 78.0 1215.8 70.6 1220.0 65.0 C1224.2 59.4 1228.3 54.8 1232.5 50.0 C1236.7 45.2 1240.4 40.2 1245.0 36.0 C1249.6 31.8 1255.4 28.3 1260.0 25.0 C1264.6 21.7 1269.3 18.3 1272.5 16.0 C1275.7 13.7 1277.9 11.8 1279.0 11.0 L1647.0 10.0 L1648.0 210.5 L1642.5 210.0 L1615.0 208.0 L1592.5 207.0 L1574.0 207.5 L1560.0 209.7 L1549.3 214.0 L1539.3 219.7 L1530.8 225.3 L1523.7 232.5 L1517.5 240.0 L1508.0 255.6 L1498.0 275.6 L1488.1 292.6 L1479.6 308.3 L1471.0 325.3 L1465.3 339.6 L1460.0 353.5 L1450.0 368.5 L1435.0 381.0 L1417.5 389.0 L1397.5 394.5 L1377.5 399.5 L1357.5 406.0 L1340.0 415.0 L1332.5 418.8 L1320.0 427.5 L1307.5 438.8 L1295.0 452.5 L1282.5 463.8 L1267.5 470.5 L1250.0 473.0 L1230.0 472.0 L1210.0 469.5 L1190.0 466.8 L1170.0 466.0 L1152.5 467.5 L1140.0 472.5 L1127.5 482.5 L1115.0 495.0 L1105.0 507.5 L1095.0 520.0 L1085.0 528.8 L1072.5 533.0 L1057.5 534.5 L1042.5 532.5 L1028.8 530.5 L1023.0 530.0 Z" fill="#ffdf00"/>
<path d="M1024.0 355.0 C1024.8 353.8 1027.8 350.0 1028.8 347.5 C1029.8 345.0 1029.0 344.2 1030.0 340.0 C1031.0 335.8 1033.3 328.3 1035.0 322.5 C1036.7 316.7 1038.3 310.4 1040.0 305.0 C1041.7 299.6 1043.3 295.4 1045.0 290.0 C1046.7 284.6 1047.9 278.3 1050.0 272.5 C1052.1 266.7 1055.0 260.4 1057.5 255.0 C1060.0 249.6 1062.1 244.6 1065.0 240.0 C1067.9 235.4 1071.2 231.0 1075.0 227.5 C1078.8 224.0 1082.9 221.0 1087.5 218.8 C1092.1 216.6 1097.1 215.6 1102.5 214.5 C1107.9 213.4 1114.2 213.1 1120.0 212.0 C1125.8 210.9 1131.7 209.6 1137.5 208.0 C1143.3 206.4 1149.6 205.1 1155.0 202.5 C1160.4 199.9 1165.4 196.2 1170.0 192.5 C1174.6 188.8 1178.3 184.6 1182.5 180.0 C1186.7 175.4 1190.8 170.0 1195.0 165.0 C1199.2 160.0 1203.3 155.4 1207.5 150.0 C1211.7 144.6 1216.2 137.9 1220.0 132.5 C1223.8 127.1 1227.1 122.5 1230.0 117.5 C1232.9 112.5 1235.0 107.9 1237.5 102.5 C1240.0 97.1 1242.1 90.8 1245.0 85.0 C1247.9 79.2 1251.7 72.3 1255.0 67.5 C1258.3 62.7 1261.2 59.3 1265.0 56.0 C1268.8 52.7 1272.5 50.2 1277.5 47.5 C1282.5 44.8 1289.6 42.9 1295.0 40.0 C1300.4 37.1 1306.0 34.0 1310.0 30.0 C1314.0 26.0 1317.0 19.2 1318.8 16.0 C1320.6 12.8 1320.6 11.8 1321.0 11.0 L1647.0 10.0 L1648.0 151.0 L1642.5 151.0 L1612.2 151.3 L1592.3 152.0 L1575.3 153.5 L1561.0 155.8 L1553.2 159.5 L1546.1 165.1 L1538.1 172.2 L1530.1 179.4 L1523.7 185.8 L1516.9 193.9 L1509.5 205.0 L1503.0 215.0 L1496.6 228.2 L1490.5 240.0 L1482.4 254.2 L1471.0 268.4 L1456.8 284.0 L1442.6 301.2 L1429.8 319.7 L1418.4 339.6 L1405.0 351.0 L1390.0 355.5 L1370.0 357.0 L1345.0 357.0 L1322.5 356.0 L1302.5 354.5 L1282.5 354.5 L1267.5 358.8 L1255.0 367.5 L1242.5 377.5 L1230.0 387.5 L1215.0 395.0 L1195.0 400.0 L1175.0 405.0 L1155.0 408.8 L1139.0 415.5 L1130.0 420.0 L1110.0 430.0 L1090.0 440.0 L1070.0 448.8 L1052.5 458.8 L1040.0 466.0 L1028.8 468.8 L1023.0 469.5 Z" fill="#ff7000"/>
<path d="M1346.0 11.0 C1345.7 11.8 1345.6 13.3 1344.0 16.0 C1342.4 18.7 1339.2 23.3 1336.5 27.0 C1333.8 30.7 1332.0 34.5 1328.0 38.0 C1324.0 41.5 1318.0 45.1 1312.5 48.0 C1307.0 50.9 1300.4 53.2 1295.0 55.5 C1289.6 57.8 1284.5 59.2 1280.0 62.0 C1275.5 64.8 1271.2 68.2 1268.0 72.5 C1264.8 76.8 1263.0 82.1 1260.5 87.5 C1258.0 92.9 1255.5 99.2 1253.0 105.0 C1250.5 110.8 1247.9 117.0 1245.5 122.5 C1243.1 128.0 1240.8 132.8 1238.5 138.0 C1236.2 143.2 1234.2 148.7 1231.5 154.0 C1228.8 159.3 1225.7 164.8 1222.5 170.0 C1219.3 175.2 1215.4 180.4 1212.5 185.0 C1209.6 189.6 1208.3 192.9 1205.0 197.5 C1201.7 202.1 1196.7 207.8 1192.5 212.5 C1188.3 217.2 1184.2 222.2 1180.0 226.0 C1175.8 229.8 1172.1 232.7 1167.5 235.0 C1162.9 237.3 1157.5 239.2 1152.5 240.0 C1147.5 240.8 1142.9 240.4 1137.5 240.0 C1132.1 239.6 1125.8 237.9 1120.0 237.5 C1114.2 237.1 1107.5 236.7 1102.5 237.5 C1097.5 238.3 1093.3 240.4 1090.0 242.5 C1086.7 244.6 1084.6 246.7 1082.5 250.0 C1080.4 253.3 1079.0 257.9 1077.5 262.5 C1076.0 267.1 1074.6 272.5 1073.8 277.5 C1073.0 282.5 1072.5 287.6 1072.5 292.5 C1072.5 297.4 1072.8 302.0 1073.8 307.0 C1074.8 312.0 1076.9 317.4 1078.8 322.5 C1080.7 327.6 1083.1 332.5 1085.0 337.5 C1086.9 342.5 1089.4 347.5 1090.0 352.5 C1090.6 357.5 1090.0 362.5 1088.8 367.5 C1087.5 372.5 1084.4 377.9 1082.5 382.5 C1080.6 387.1 1078.1 391.2 1077.5 395.0 C1076.9 398.8 1077.5 402.3 1078.8 405.0 C1080.0 407.7 1082.3 410.2 1085.0 411.0 C1087.7 411.8 1091.2 411.4 1095.0 410.0 C1098.8 408.6 1102.9 405.2 1107.5 402.5 C1112.1 399.8 1117.1 396.3 1122.5 393.8 C1127.9 391.3 1134.2 389.0 1140.0 387.5 C1145.8 386.0 1151.7 386.2 1157.5 385.0 C1163.3 383.8 1169.2 382.1 1175.0 380.0 C1180.8 377.9 1187.1 375.4 1192.5 372.5 C1197.9 369.6 1202.9 366.1 1207.5 362.5 C1212.1 358.9 1215.8 354.8 1220.0 351.0 C1224.2 347.2 1227.9 343.3 1232.5 340.0 C1237.1 336.7 1242.1 333.5 1247.5 331.0 C1252.9 328.5 1258.8 326.5 1265.0 325.0 C1271.2 323.5 1277.9 322.5 1285.0 322.0 C1292.1 321.5 1299.6 321.8 1307.5 322.0 C1315.4 322.2 1324.2 322.8 1332.5 323.0 C1340.8 323.2 1349.6 323.6 1357.5 323.0 C1365.4 322.4 1373.9 321.4 1380.0 319.7 C1386.1 317.9 1389.5 315.8 1394.2 312.5 C1398.9 309.2 1403.7 303.9 1408.4 299.7 C1413.2 295.4 1418.0 290.6 1422.7 287.0 C1427.5 283.4 1432.2 281.5 1436.9 278.4 C1441.6 275.3 1446.4 272.2 1451.1 268.4 C1455.8 264.6 1461.3 260.3 1465.3 255.6 C1469.3 250.9 1472.2 244.8 1475.0 240.0 C1477.8 235.2 1480.2 231.1 1482.4 226.8 C1484.6 222.5 1486.2 218.3 1488.1 214.0 C1490.0 209.7 1492.1 204.7 1493.8 201.2 C1495.5 197.7 1497.0 195.6 1498.5 193.0 C1500.0 190.4 1501.2 188.9 1503.0 185.8 C1504.8 182.7 1507.3 178.3 1509.4 174.6 C1511.5 170.9 1513.7 166.8 1515.8 163.5 C1517.9 160.2 1520.1 157.4 1522.2 154.7 C1524.3 152.0 1526.2 149.6 1528.5 147.5 C1530.8 145.4 1533.2 143.7 1535.7 142.0 C1538.2 140.3 1541.1 138.5 1543.7 137.2 C1546.3 135.9 1548.9 134.9 1551.6 134.0 C1554.3 133.1 1556.1 132.3 1560.0 131.8 C1563.9 131.3 1568.3 131.1 1575.0 130.8 C1581.7 130.5 1592.1 130.4 1600.0 130.2 C1607.9 130.0 1615.4 129.7 1622.5 129.5 C1629.6 129.3 1638.2 129.0 1642.5 128.8 C1646.8 128.7 1647.1 128.6 1648.0 128.6 L1647.0 10.0 Z" fill="#ff4000"/>
<path d="M1370.0 11.0 C1370.0 11.8 1370.2 12.8 1370.0 16.0 C1369.8 19.2 1369.6 25.2 1368.8 30.0 C1368.0 34.8 1367.1 40.8 1365.0 45.0 C1362.9 49.2 1359.7 52.4 1356.0 55.5 C1352.3 58.6 1348.2 60.9 1343.0 63.5 C1337.8 66.1 1330.9 68.5 1325.0 71.0 C1319.1 73.5 1312.5 75.8 1307.5 78.5 C1302.5 81.2 1298.8 83.5 1295.0 87.0 C1291.2 90.5 1287.9 94.9 1285.0 99.5 C1282.1 104.1 1279.7 109.1 1277.5 114.5 C1275.3 119.9 1274.0 126.4 1272.0 132.0 C1270.0 137.6 1267.9 142.1 1265.5 148.0 C1263.1 153.9 1260.5 161.3 1257.5 167.5 C1254.5 173.7 1251.2 179.2 1247.5 185.0 C1243.8 190.8 1238.8 196.7 1235.0 202.5 C1231.2 208.3 1227.9 214.6 1225.0 220.0 C1222.1 225.4 1219.6 230.0 1217.5 235.0 C1215.4 240.0 1214.6 245.0 1212.5 250.0 C1210.4 255.0 1207.9 260.4 1205.0 265.0 C1202.1 269.6 1199.2 274.2 1195.0 277.5 C1190.8 280.8 1185.4 282.9 1180.0 285.0 C1174.6 287.1 1168.7 288.9 1162.5 290.0 C1156.3 291.1 1148.1 290.3 1143.0 291.5 C1137.9 292.7 1134.6 294.2 1132.0 297.0 C1129.4 299.8 1128.3 304.2 1127.5 308.0 C1126.7 311.8 1126.4 315.5 1127.0 320.0 C1127.6 324.5 1129.2 330.7 1131.0 335.0 C1132.8 339.3 1134.8 343.1 1137.5 346.0 C1140.2 348.9 1143.8 351.4 1147.5 352.5 C1151.2 353.6 1155.8 353.9 1160.0 352.5 C1164.2 351.1 1168.8 347.6 1172.5 343.8 C1176.2 340.1 1179.2 334.8 1182.5 330.0 C1185.8 325.2 1189.2 319.6 1192.5 315.0 C1195.8 310.4 1198.3 305.8 1202.5 302.5 C1206.7 299.2 1212.1 297.1 1217.5 295.5 C1222.9 293.9 1229.2 293.6 1235.0 293.0 C1240.8 292.4 1246.2 292.3 1252.5 292.0 C1258.8 291.7 1265.4 291.7 1272.5 291.0 C1279.6 290.3 1287.9 289.2 1295.0 288.0 C1302.1 286.8 1308.8 285.6 1315.0 283.8 C1321.2 282.1 1327.1 280.0 1332.5 277.5 C1337.9 275.0 1342.9 271.9 1347.5 268.8 C1352.1 265.7 1355.8 261.9 1360.0 258.8 C1364.2 255.7 1368.3 252.4 1372.5 250.0 C1376.7 247.6 1380.8 245.5 1385.0 244.5 C1389.2 243.5 1393.3 243.6 1397.5 243.8 C1401.7 244.1 1405.4 245.0 1410.0 246.0 C1414.6 247.0 1420.0 249.2 1425.0 250.0 C1430.0 250.8 1435.7 251.1 1440.0 250.5 C1444.3 249.9 1448.1 248.3 1451.1 246.4 C1454.1 244.5 1456.1 241.6 1458.2 239.0 C1460.3 236.4 1462.0 234.2 1463.9 231.0 C1465.8 227.8 1467.7 223.7 1469.6 219.7 C1471.5 215.7 1473.4 211.2 1475.3 206.9 C1477.2 202.6 1478.9 198.5 1481.0 194.0 C1483.1 189.5 1485.7 184.5 1488.1 179.8 C1490.5 175.1 1492.8 170.1 1495.2 165.6 C1497.6 161.1 1499.8 157.1 1502.3 152.8 C1504.8 148.5 1507.7 143.6 1510.0 140.0 C1512.3 136.4 1513.8 134.1 1516.0 131.5 C1518.2 128.9 1520.3 126.8 1523.5 124.5 C1526.7 122.2 1530.6 119.2 1535.0 117.5 C1539.4 115.8 1544.2 115.2 1550.0 114.5 C1555.8 113.8 1562.5 113.4 1570.0 113.0 C1577.5 112.6 1586.7 112.5 1595.0 112.3 C1603.3 112.0 1612.1 111.8 1620.0 111.5 C1627.9 111.2 1637.8 110.7 1642.5 110.5 C1647.2 110.3 1647.1 110.3 1648.0 110.3 L1647.0 10.0 Z" fill="#ff1000"/>
<path d="M1397.0 11.0 C1397.1 11.8 1397.0 12.4 1397.5 16.0 C1398.0 19.6 1399.7 27.3 1400.0 32.5 C1400.3 37.7 1399.8 42.8 1399.5 47.0 C1399.2 51.2 1398.8 54.3 1398.0 58.0 C1397.2 61.7 1396.6 65.8 1395.0 69.0 C1393.4 72.2 1391.0 74.8 1388.5 77.0 C1386.0 79.2 1383.9 80.1 1380.0 82.0 C1376.1 83.9 1371.2 86.0 1365.0 88.5 C1358.8 91.0 1349.5 93.8 1343.0 97.0 C1336.5 100.2 1330.8 104.0 1326.0 108.0 C1321.2 112.0 1317.4 116.7 1314.0 121.0 C1310.6 125.3 1308.0 129.2 1305.5 134.0 C1303.0 138.8 1301.2 144.4 1299.0 150.0 C1296.8 155.6 1294.3 162.1 1292.0 167.5 C1289.7 172.9 1287.0 177.5 1285.0 182.5 C1283.0 187.5 1281.9 192.5 1280.0 197.5 C1278.1 202.5 1275.3 207.9 1273.8 212.5 C1272.3 217.1 1271.0 220.8 1271.0 225.0 C1271.0 229.2 1271.9 234.4 1273.8 237.5 C1275.7 240.6 1279.0 243.2 1282.5 243.8 C1286.0 244.4 1290.4 242.5 1295.0 241.0 C1299.6 239.5 1305.0 237.2 1310.0 235.0 C1315.0 232.8 1319.6 229.8 1325.0 227.5 C1330.4 225.2 1336.7 222.7 1342.5 221.0 C1348.3 219.3 1353.8 218.7 1360.0 217.5 C1366.2 216.3 1374.3 214.6 1380.0 214.0 C1385.7 213.4 1389.9 213.7 1394.2 214.0 C1398.5 214.3 1401.8 215.4 1405.6 216.1 C1409.4 216.8 1413.2 218.0 1417.0 218.2 C1420.8 218.4 1424.6 218.4 1428.4 217.5 C1432.2 216.6 1436.4 214.5 1439.7 212.5 C1443.0 210.5 1445.5 208.2 1448.3 205.4 C1451.1 202.6 1454.0 199.1 1456.8 195.5 C1459.6 191.9 1462.4 188.4 1465.3 184.1 C1468.2 179.8 1471.3 174.4 1473.9 169.9 C1476.5 165.4 1478.9 160.9 1481.0 157.1 C1483.1 153.3 1485.0 149.9 1486.7 147.1 C1488.5 144.2 1489.6 143.2 1491.5 140.0 C1493.4 136.8 1495.7 132.1 1498.0 128.2 C1500.3 124.3 1502.6 120.3 1505.2 116.8 C1507.8 113.2 1510.6 109.5 1513.7 106.9 C1516.8 104.3 1520.4 102.6 1523.7 101.2 C1527.0 99.8 1529.8 99.0 1533.6 98.3 C1537.4 97.6 1541.2 97.2 1546.4 96.9 C1551.6 96.6 1558.6 96.5 1565.0 96.3 C1571.4 96.1 1577.5 96.1 1585.0 96.0 C1592.5 95.9 1602.5 95.9 1610.0 95.5 C1617.5 95.1 1624.6 94.2 1630.0 93.5 C1635.4 92.8 1639.5 91.9 1642.5 91.5 C1645.5 91.1 1647.1 91.1 1648.0 91.0 L1647.0 10.0 Z" fill="#df0000"/>
<path d="M1434.0 11.0 C1433.7 11.8 1433.0 13.2 1432.0 16.0 C1431.0 18.8 1429.3 24.0 1428.0 28.0 C1426.7 32.0 1425.1 36.1 1424.0 40.0 C1422.9 43.9 1422.5 47.4 1421.3 51.4 C1420.1 55.4 1419.2 59.0 1417.0 64.2 C1414.8 69.4 1412.0 77.2 1408.4 82.7 C1404.8 88.2 1400.3 92.9 1395.6 96.9 C1390.9 101.0 1384.6 103.9 1380.0 107.0 C1375.4 110.1 1371.6 112.6 1367.9 115.4 C1364.2 118.2 1360.8 121.1 1357.9 123.9 C1355.1 126.8 1352.5 129.3 1350.8 132.5 C1349.1 135.7 1348.3 139.2 1347.5 143.0 C1346.7 146.8 1345.6 151.7 1346.0 155.0 C1346.4 158.3 1348.1 160.4 1350.0 163.0 C1351.9 165.6 1354.2 167.9 1357.5 170.5 C1360.8 173.1 1366.2 176.6 1370.0 178.8 C1373.8 181.1 1376.0 182.6 1380.0 184.0 C1384.0 185.4 1389.5 186.4 1394.2 187.0 C1398.9 187.6 1403.7 188.1 1408.4 187.7 C1413.2 187.3 1418.0 186.4 1422.7 184.8 C1427.5 183.2 1432.6 180.9 1436.9 178.4 C1441.2 175.9 1444.5 173.3 1448.3 169.9 C1452.1 166.5 1457.4 160.6 1460.0 157.9 C1462.6 155.2 1462.5 155.8 1464.0 153.9 C1465.5 152.0 1467.2 149.3 1468.8 146.7 C1470.4 144.0 1472.0 140.8 1473.5 138.0 C1475.0 135.2 1476.2 132.6 1477.5 130.0 C1478.8 127.4 1479.7 125.7 1481.5 122.5 C1483.3 119.3 1485.6 114.9 1488.1 111.1 C1490.6 107.3 1493.5 103.0 1496.6 99.7 C1499.7 96.4 1503.3 93.6 1506.6 91.2 C1509.9 88.8 1513.0 86.8 1516.6 85.5 C1520.1 84.2 1523.4 83.9 1527.9 83.4 C1532.4 82.9 1537.4 82.7 1543.6 82.7 C1549.8 82.7 1558.1 83.6 1565.0 83.5 C1571.9 83.4 1577.5 82.8 1585.0 82.0 C1592.5 81.2 1602.5 79.9 1610.0 78.5 C1617.5 77.1 1624.6 74.9 1630.0 73.5 C1635.4 72.1 1639.5 70.8 1642.5 70.0 C1645.5 69.2 1647.1 68.8 1648.0 68.5 L1647.0 10.0 Z" fill="#af0000"/>
<path d="M1458.0 11.0 C1457.9 11.8 1458.2 12.8 1457.5 16.0 C1456.8 19.2 1455.5 26.0 1454.0 30.0 C1452.5 34.0 1450.2 36.9 1448.3 40.0 C1446.4 43.1 1444.5 45.4 1442.6 48.5 C1440.7 51.6 1438.6 54.7 1436.9 58.5 C1435.2 62.3 1434.0 67.0 1432.6 71.3 C1431.2 75.6 1430.1 79.8 1428.4 84.1 C1426.8 88.4 1425.1 92.9 1422.7 96.9 C1420.3 100.9 1417.2 104.8 1414.1 108.3 C1411.0 111.8 1407.3 114.9 1404.2 118.2 C1401.1 121.5 1397.2 125.0 1395.6 128.2 C1394.0 131.4 1393.1 134.3 1394.5 137.5 C1395.9 140.7 1400.0 145.2 1403.8 147.5 C1407.6 149.8 1412.7 151.0 1417.5 151.0 C1422.3 151.0 1427.9 149.3 1432.5 147.5 C1437.1 145.7 1441.4 143.2 1445.0 140.0 C1448.6 136.8 1451.1 132.1 1454.0 128.2 C1456.9 124.3 1459.7 120.6 1462.5 116.8 C1465.3 113.0 1468.2 109.2 1471.0 105.4 C1473.8 101.6 1476.5 97.5 1479.6 94.0 C1482.7 90.5 1486.0 87.2 1489.5 84.1 C1493.0 81.0 1496.6 77.7 1500.9 75.6 C1505.2 73.5 1510.3 72.2 1515.1 71.3 C1519.8 70.3 1524.7 70.2 1529.4 69.9 C1534.2 69.6 1539.3 69.4 1543.6 69.2 C1547.9 69.0 1551.0 69.2 1555.3 69.0 C1559.6 68.8 1564.8 68.9 1569.6 68.3 C1574.3 67.7 1579.1 66.7 1583.8 65.5 C1588.5 64.3 1593.3 62.6 1598.0 61.2 C1602.7 59.8 1608.4 58.3 1612.2 56.9 C1616.0 55.5 1618.2 54.6 1620.8 52.7 C1623.4 50.8 1625.8 48.5 1627.9 45.6 C1630.0 42.8 1631.9 39.2 1633.6 35.6 C1635.3 32.0 1636.8 27.5 1637.9 24.2 C1639.1 20.9 1639.8 18.4 1640.5 16.0 C1641.2 13.6 1641.8 11.0 1642.0 10.0 L1647.0 10.0 Z" fill="#800000"/>
<path class="k" d="M1024.0 152.0 C1024.8 151.2 1026.5 149.5 1028.8 147.5 C1031.0 145.5 1034.4 142.9 1037.5 140.0 C1040.6 137.1 1043.8 134.2 1047.5 130.0 C1051.2 125.8 1056.2 119.6 1060.0 115.0 C1063.8 110.4 1066.7 107.1 1070.0 102.5 C1073.3 97.9 1077.1 92.1 1080.0 87.5 C1082.9 82.9 1084.2 79.0 1087.5 75.0 C1090.8 71.0 1095.4 67.1 1100.0 63.8 C1104.6 60.5 1110.0 58.5 1115.0 55.0 C1120.0 51.5 1125.4 47.1 1130.0 42.5 C1134.6 37.9 1139.0 31.9 1142.5 27.5 C1146.0 23.1 1149.1 18.8 1151.0 16.0 C1152.9 13.2 1153.5 11.8 1154.0 11.0"/>
<path class="k" d="M1262.0 587.0 C1264.3 586.0 1270.5 583.2 1276.0 581.0 C1281.5 578.8 1288.5 576.5 1295.0 574.0 C1301.5 571.5 1308.3 568.5 1315.0 566.0 C1321.7 563.5 1328.3 561.5 1335.0 558.8 C1341.7 556.1 1348.3 553.1 1355.0 550.0 C1361.7 546.9 1368.3 543.3 1375.0 540.0 C1381.7 536.7 1388.8 533.5 1395.0 530.0 C1401.2 526.5 1406.7 522.5 1412.5 518.8 C1418.3 515.0 1424.6 511.3 1430.0 507.5 C1435.4 503.7 1440.0 499.9 1445.0 496.0 C1450.0 492.1 1455.4 488.0 1460.0 483.8 C1464.6 479.6 1468.3 475.0 1472.5 471.0 C1476.7 467.0 1480.8 464.2 1485.0 460.0 C1489.2 455.8 1494.4 449.4 1497.5 446.0 C1500.6 442.6 1500.6 442.1 1503.8 439.6 C1507.0 437.1 1512.1 434.6 1516.6 431.0 C1521.1 427.4 1527.2 422.7 1530.8 418.2 C1534.3 413.7 1536.1 409.4 1537.9 404.0 C1539.7 398.6 1540.5 391.4 1541.5 385.5 C1542.5 379.6 1542.3 373.4 1543.6 368.4 C1544.9 363.4 1546.6 359.4 1549.3 355.6 C1552.0 351.8 1555.7 348.3 1560.0 345.7 C1564.3 343.1 1569.2 341.7 1575.0 340.0 C1580.8 338.3 1587.5 336.4 1595.0 335.5 C1602.5 334.6 1612.1 334.7 1620.0 334.5 C1627.9 334.3 1637.8 334.5 1642.5 334.5 C1647.2 334.5 1647.1 334.5 1648.0 334.5"/>
<path class="k" d="M1476.0 588.0 C1476.7 586.8 1478.5 583.6 1480.0 581.0 C1481.5 578.4 1482.9 575.6 1485.0 572.5 C1487.1 569.4 1489.6 566.7 1492.5 562.5 C1495.4 558.3 1499.2 552.5 1502.5 547.5 C1505.8 542.5 1509.2 537.5 1512.5 532.5 C1515.8 527.5 1519.2 522.1 1522.5 517.5 C1525.8 512.9 1528.8 508.8 1532.5 505.0 C1536.2 501.2 1540.0 498.2 1545.0 495.0 C1550.0 491.8 1556.2 488.5 1562.5 486.0 C1568.8 483.5 1575.8 481.9 1582.5 480.0 C1589.2 478.1 1595.8 476.1 1602.5 474.5 C1609.2 472.9 1615.8 471.4 1622.5 470.5 C1629.2 469.6 1638.2 469.1 1642.5 468.8 C1646.8 468.5 1647.1 468.6 1648.0 468.5"/>
<path class="k" d="M1024.0 247.0 C1024.8 245.8 1027.0 242.8 1028.8 240.0 C1030.6 237.2 1032.3 233.3 1035.0 230.0 C1037.7 226.7 1041.7 223.5 1045.0 220.0 C1048.3 216.5 1050.8 212.6 1055.0 208.8 C1059.2 205.1 1064.2 200.9 1070.0 197.5 C1075.8 194.1 1083.3 191.8 1090.0 188.5 C1096.7 185.2 1103.5 181.4 1110.0 178.0 C1116.5 174.6 1123.0 171.2 1129.0 168.0 C1135.0 164.8 1140.4 162.3 1146.0 158.5 C1151.6 154.7 1157.7 149.3 1162.5 145.0 C1167.3 140.7 1170.8 137.1 1175.0 132.5 C1179.2 127.9 1183.8 122.9 1187.5 117.5 C1191.2 112.1 1194.2 105.6 1197.5 100.0 C1200.8 94.4 1203.8 89.6 1207.5 83.8 C1211.2 78.0 1215.8 70.6 1220.0 65.0 C1224.2 59.4 1228.3 54.8 1232.5 50.0 C1236.7 45.2 1240.4 40.2 1245.0 36.0 C1249.6 31.8 1255.4 28.3 1260.0 25.0 C1264.6 21.7 1269.3 18.3 1272.5 16.0 C1275.7 13.7 1277.9 11.8 1279.0 11.0"/>
<path class="k" d="M1023.0 530.0 C1024.0 530.1 1025.5 530.1 1028.8 530.5 C1032.0 530.9 1037.7 531.8 1042.5 532.5 C1047.3 533.2 1052.5 534.4 1057.5 534.5 C1062.5 534.6 1067.9 534.0 1072.5 533.0 C1077.1 532.0 1081.2 531.0 1085.0 528.8 C1088.8 526.6 1091.7 523.5 1095.0 520.0 C1098.3 516.5 1101.7 511.7 1105.0 507.5 C1108.3 503.3 1111.2 499.2 1115.0 495.0 C1118.8 490.8 1123.3 486.2 1127.5 482.5 C1131.7 478.8 1135.8 475.0 1140.0 472.5 C1144.2 470.0 1147.5 468.6 1152.5 467.5 C1157.5 466.4 1163.8 466.1 1170.0 466.0 C1176.2 465.9 1183.3 466.2 1190.0 466.8 C1196.7 467.4 1203.3 468.6 1210.0 469.5 C1216.7 470.4 1223.3 471.4 1230.0 472.0 C1236.7 472.6 1243.8 473.2 1250.0 473.0 C1256.2 472.8 1262.1 472.0 1267.5 470.5 C1272.9 469.0 1277.9 466.8 1282.5 463.8 C1287.1 460.8 1290.8 456.7 1295.0 452.5 C1299.2 448.3 1303.3 443.0 1307.5 438.8 C1311.7 434.6 1315.8 430.8 1320.0 427.5 C1324.2 424.2 1329.2 420.9 1332.5 418.8 C1335.8 416.7 1335.8 417.1 1340.0 415.0 C1344.2 412.9 1351.2 408.6 1357.5 406.0 C1363.8 403.4 1370.8 401.4 1377.5 399.5 C1384.2 397.6 1390.8 396.2 1397.5 394.5 C1404.2 392.8 1411.2 391.2 1417.5 389.0 C1423.8 386.8 1429.6 384.4 1435.0 381.0 C1440.4 377.6 1445.8 373.1 1450.0 368.5 C1454.2 363.9 1457.5 358.3 1460.0 353.5 C1462.5 348.7 1463.5 344.3 1465.3 339.6 C1467.1 334.9 1468.6 330.5 1471.0 325.3 C1473.4 320.1 1476.8 313.8 1479.6 308.3 C1482.4 302.9 1485.0 298.1 1488.1 292.6 C1491.2 287.2 1494.7 281.8 1498.0 275.6 C1501.3 269.4 1504.8 261.5 1508.0 255.6 C1511.2 249.7 1514.9 243.8 1517.5 240.0 C1520.1 236.2 1521.5 234.9 1523.7 232.5 C1525.9 230.1 1528.2 227.4 1530.8 225.3 C1533.4 223.2 1536.2 221.6 1539.3 219.7 C1542.4 217.8 1545.8 215.7 1549.3 214.0 C1552.8 212.3 1555.9 210.8 1560.0 209.7 C1564.1 208.6 1568.6 207.9 1574.0 207.5 C1579.4 207.1 1585.7 206.9 1592.5 207.0 C1599.3 207.1 1606.7 207.5 1615.0 208.0 C1623.3 208.5 1637.0 209.6 1642.5 210.0 C1648.0 210.4 1647.1 210.4 1648.0 210.5"/>
<path class="k" d="M1024.0 355.0 C1024.8 353.8 1027.8 350.0 1028.8 347.5 C1029.8 345.0 1029.0 344.2 1030.0 340.0 C1031.0 335.8 1033.3 328.3 1035.0 322.5 C1036.7 316.7 1038.3 310.4 1040.0 305.0 C1041.7 299.6 1043.3 295.4 1045.0 290.0 C1046.7 284.6 1047.9 278.3 1050.0 272.5 C1052.1 266.7 1055.0 260.4 1057.5 255.0 C1060.0 249.6 1062.1 244.6 1065.0 240.0 C1067.9 235.4 1071.2 231.0 1075.0 227.5 C1078.8 224.0 1082.9 221.0 1087.5 218.8 C1092.1 216.6 1097.1 215.6 1102.5 214.5 C1107.9 213.4 1114.2 213.1 1120.0 212.0 C1125.8 210.9 1131.7 209.6 1137.5 208.0 C1143.3 206.4 1149.6 205.1 1155.0 202.5 C1160.4 199.9 1165.4 196.2 1170.0 192.5 C1174.6 188.8 1178.3 184.6 1182.5 180.0 C1186.7 175.4 1190.8 170.0 1195.0 165.0 C1199.2 160.0 1203.3 155.4 1207.5 150.0 C1211.7 144.6 1216.2 137.9 1220.0 132.5 C1223.8 127.1 1227.1 122.5 1230.0 117.5 C1232.9 112.5 1235.0 107.9 1237.5 102.5 C1240.0 97.1 1242.1 90.8 1245.0 85.0 C1247.9 79.2 1251.7 72.3 1255.0 67.5 C1258.3 62.7 1261.2 59.3 1265.0 56.0 C1268.8 52.7 1272.5 50.2 1277.5 47.5 C1282.5 44.8 1289.6 42.9 1295.0 40.0 C1300.4 37.1 1306.0 34.0 1310.0 30.0 C1314.0 26.0 1317.0 19.2 1318.8 16.0 C1320.6 12.8 1320.6 11.8 1321.0 11.0"/>
<path class="k" d="M1023.0 469.5 C1024.0 469.4 1026.0 469.4 1028.8 468.8 C1031.6 468.2 1036.0 467.7 1040.0 466.0 C1044.0 464.3 1047.5 461.7 1052.5 458.8 C1057.5 455.9 1063.8 451.9 1070.0 448.8 C1076.2 445.7 1083.3 443.1 1090.0 440.0 C1096.7 436.9 1103.3 433.3 1110.0 430.0 C1116.7 426.7 1125.2 422.4 1130.0 420.0 C1134.8 417.6 1134.8 417.4 1139.0 415.5 C1143.2 413.6 1149.0 410.6 1155.0 408.8 C1161.0 407.1 1168.3 406.5 1175.0 405.0 C1181.7 403.5 1188.3 401.7 1195.0 400.0 C1201.7 398.3 1209.2 397.1 1215.0 395.0 C1220.8 392.9 1225.4 390.4 1230.0 387.5 C1234.6 384.6 1238.3 380.8 1242.5 377.5 C1246.7 374.2 1250.8 370.6 1255.0 367.5 C1259.2 364.4 1262.9 361.0 1267.5 358.8 C1272.1 356.6 1276.7 355.2 1282.5 354.5 C1288.3 353.8 1295.8 354.2 1302.5 354.5 C1309.2 354.8 1315.4 355.6 1322.5 356.0 C1329.6 356.4 1337.1 356.8 1345.0 357.0 C1352.9 357.2 1362.5 357.2 1370.0 357.0 C1377.5 356.8 1384.2 356.5 1390.0 355.5 C1395.8 354.5 1400.3 353.6 1405.0 351.0 C1409.7 348.4 1414.3 344.8 1418.4 339.6 C1422.5 334.4 1425.8 326.1 1429.8 319.7 C1433.8 313.3 1438.1 307.1 1442.6 301.2 C1447.1 295.2 1452.1 289.5 1456.8 284.0 C1461.5 278.5 1466.7 273.4 1471.0 268.4 C1475.3 263.4 1479.2 258.9 1482.4 254.2 C1485.7 249.5 1488.1 244.3 1490.5 240.0 C1492.9 235.7 1494.5 232.4 1496.6 228.2 C1498.7 224.0 1500.8 218.9 1503.0 215.0 C1505.2 211.1 1507.2 208.5 1509.5 205.0 C1511.8 201.5 1514.5 197.1 1516.9 193.9 C1519.3 190.7 1521.5 188.2 1523.7 185.8 C1525.9 183.4 1527.7 181.7 1530.1 179.4 C1532.5 177.1 1535.4 174.6 1538.1 172.2 C1540.8 169.8 1543.6 167.2 1546.1 165.1 C1548.6 163.0 1550.7 161.1 1553.2 159.5 C1555.7 157.9 1557.3 156.8 1561.0 155.8 C1564.7 154.8 1570.1 154.1 1575.3 153.5 C1580.5 152.9 1586.1 152.4 1592.3 152.0 C1598.5 151.6 1603.8 151.5 1612.2 151.3 C1620.6 151.1 1636.5 151.1 1642.5 151.0 C1648.5 150.9 1647.1 151.0 1648.0 151.0"/>
<path class="k" d="M1346.0 11.0 C1345.7 11.8 1345.6 13.3 1344.0 16.0 C1342.4 18.7 1339.2 23.3 1336.5 27.0 C1333.8 30.7 1332.0 34.5 1328.0 38.0 C1324.0 41.5 1318.0 45.1 1312.5 48.0 C1307.0 50.9 1300.4 53.2 1295.0 55.5 C1289.6 57.8 1284.5 59.2 1280.0 62.0 C1275.5 64.8 1271.2 68.2 1268.0 72.5 C1264.8 76.8 1263.0 82.1 1260.5 87.5 C1258.0 92.9 1255.5 99.2 1253.0 105.0 C1250.5 110.8 1247.9 117.0 1245.5 122.5 C1243.1 128.0 1240.8 132.8 1238.5 138.0 C1236.2 143.2 1234.2 148.7 1231.5 154.0 C1228.8 159.3 1225.7 164.8 1222.5 170.0 C1219.3 175.2 1215.4 180.4 1212.5 185.0 C1209.6 189.6 1208.3 192.9 1205.0 197.5 C1201.7 202.1 1196.7 207.8 1192.5 212.5 C1188.3 217.2 1184.2 222.2 1180.0 226.0 C1175.8 229.8 1172.1 232.7 1167.5 235.0 C1162.9 237.3 1157.5 239.2 1152.5 240.0 C1147.5 240.8 1142.9 240.4 1137.5 240.0 C1132.1 239.6 1125.8 237.9 1120.0 237.5 C1114.2 237.1 1107.5 236.7 1102.5 237.5 C1097.5 238.3 1093.3 240.4 1090.0 242.5 C1086.7 244.6 1084.6 246.7 1082.5 250.0 C1080.4 253.3 1079.0 257.9 1077.5 262.5 C1076.0 267.1 1074.6 272.5 1073.8 277.5 C1073.0 282.5 1072.5 287.6 1072.5 292.5 C1072.5 297.4 1072.8 302.0 1073.8 307.0 C1074.8 312.0 1076.9 317.4 1078.8 322.5 C1080.7 327.6 1083.1 332.5 1085.0 337.5 C1086.9 342.5 1089.4 347.5 1090.0 352.5 C1090.6 357.5 1090.0 362.5 1088.8 367.5 C1087.5 372.5 1084.4 377.9 1082.5 382.5 C1080.6 387.1 1078.1 391.2 1077.5 395.0 C1076.9 398.8 1077.5 402.3 1078.8 405.0 C1080.0 407.7 1082.3 410.2 1085.0 411.0 C1087.7 411.8 1091.2 411.4 1095.0 410.0 C1098.8 408.6 1102.9 405.2 1107.5 402.5 C1112.1 399.8 1117.1 396.3 1122.5 393.8 C1127.9 391.3 1134.2 389.0 1140.0 387.5 C1145.8 386.0 1151.7 386.2 1157.5 385.0 C1163.3 383.8 1169.2 382.1 1175.0 380.0 C1180.8 377.9 1187.1 375.4 1192.5 372.5 C1197.9 369.6 1202.9 366.1 1207.5 362.5 C1212.1 358.9 1215.8 354.8 1220.0 351.0 C1224.2 347.2 1227.9 343.3 1232.5 340.0 C1237.1 336.7 1242.1 333.5 1247.5 331.0 C1252.9 328.5 1258.8 326.5 1265.0 325.0 C1271.2 323.5 1277.9 322.5 1285.0 322.0 C1292.1 321.5 1299.6 321.8 1307.5 322.0 C1315.4 322.2 1324.2 322.8 1332.5 323.0 C1340.8 323.2 1349.6 323.6 1357.5 323.0 C1365.4 322.4 1373.9 321.4 1380.0 319.7 C1386.1 317.9 1389.5 315.8 1394.2 312.5 C1398.9 309.2 1403.7 303.9 1408.4 299.7 C1413.2 295.4 1418.0 290.6 1422.7 287.0 C1427.5 283.4 1432.2 281.5 1436.9 278.4 C1441.6 275.3 1446.4 272.2 1451.1 268.4 C1455.8 264.6 1461.3 260.3 1465.3 255.6 C1469.3 250.9 1472.2 244.8 1475.0 240.0 C1477.8 235.2 1480.2 231.1 1482.4 226.8 C1484.6 222.5 1486.2 218.3 1488.1 214.0 C1490.0 209.7 1492.1 204.7 1493.8 201.2 C1495.5 197.7 1497.0 195.6 1498.5 193.0 C1500.0 190.4 1501.2 188.9 1503.0 185.8 C1504.8 182.7 1507.3 178.3 1509.4 174.6 C1511.5 170.9 1513.7 166.8 1515.8 163.5 C1517.9 160.2 1520.1 157.4 1522.2 154.7 C1524.3 152.0 1526.2 149.6 1528.5 147.5 C1530.8 145.4 1533.2 143.7 1535.7 142.0 C1538.2 140.3 1541.1 138.5 1543.7 137.2 C1546.3 135.9 1548.9 134.9 1551.6 134.0 C1554.3 133.1 1556.1 132.3 1560.0 131.8 C1563.9 131.3 1568.3 131.1 1575.0 130.8 C1581.7 130.5 1592.1 130.4 1600.0 130.2 C1607.9 130.0 1615.4 129.7 1622.5 129.5 C1629.6 129.3 1638.2 129.0 1642.5 128.8 C1646.8 128.7 1647.1 128.6 1648.0 128.6"/>
<path class="k" d="M1370.0 11.0 C1370.0 11.8 1370.2 12.8 1370.0 16.0 C1369.8 19.2 1369.6 25.2 1368.8 30.0 C1368.0 34.8 1367.1 40.8 1365.0 45.0 C1362.9 49.2 1359.7 52.4 1356.0 55.5 C1352.3 58.6 1348.2 60.9 1343.0 63.5 C1337.8 66.1 1330.9 68.5 1325.0 71.0 C1319.1 73.5 1312.5 75.8 1307.5 78.5 C1302.5 81.2 1298.8 83.5 1295.0 87.0 C1291.2 90.5 1287.9 94.9 1285.0 99.5 C1282.1 104.1 1279.7 109.1 1277.5 114.5 C1275.3 119.9 1274.0 126.4 1272.0 132.0 C1270.0 137.6 1267.9 142.1 1265.5 148.0 C1263.1 153.9 1260.5 161.3 1257.5 167.5 C1254.5 173.7 1251.2 179.2 1247.5 185.0 C1243.8 190.8 1238.8 196.7 1235.0 202.5 C1231.2 208.3 1227.9 214.6 1225.0 220.0 C1222.1 225.4 1219.6 230.0 1217.5 235.0 C1215.4 240.0 1214.6 245.0 1212.5 250.0 C1210.4 255.0 1207.9 260.4 1205.0 265.0 C1202.1 269.6 1199.2 274.2 1195.0 277.5 C1190.8 280.8 1185.4 282.9 1180.0 285.0 C1174.6 287.1 1168.7 288.9 1162.5 290.0 C1156.3 291.1 1148.1 290.3 1143.0 291.5 C1137.9 292.7 1134.6 294.2 1132.0 297.0 C1129.4 299.8 1128.3 304.2 1127.5 308.0 C1126.7 311.8 1126.4 315.5 1127.0 320.0 C1127.6 324.5 1129.2 330.7 1131.0 335.0 C1132.8 339.3 1134.8 343.1 1137.5 346.0 C1140.2 348.9 1143.8 351.4 1147.5 352.5 C1151.2 353.6 1155.8 353.9 1160.0 352.5 C1164.2 351.1 1168.8 347.6 1172.5 343.8 C1176.2 340.1 1179.2 334.8 1182.5 330.0 C1185.8 325.2 1189.2 319.6 1192.5 315.0 C1195.8 310.4 1198.3 305.8 1202.5 302.5 C1206.7 299.2 1212.1 297.1 1217.5 295.5 C1222.9 293.9 1229.2 293.6 1235.0 293.0 C1240.8 292.4 1246.2 292.3 1252.5 292.0 C1258.8 291.7 1265.4 291.7 1272.5 291.0 C1279.6 290.3 1287.9 289.2 1295.0 288.0 C1302.1 286.8 1308.8 285.6 1315.0 283.8 C1321.2 282.1 1327.1 280.0 1332.5 277.5 C1337.9 275.0 1342.9 271.9 1347.5 268.8 C1352.1 265.7 1355.8 261.9 1360.0 258.8 C1364.2 255.7 1368.3 252.4 1372.5 250.0 C1376.7 247.6 1380.8 245.5 1385.0 244.5 C1389.2 243.5 1393.3 243.6 1397.5 243.8 C1401.7 244.1 1405.4 245.0 1410.0 246.0 C1414.6 247.0 1420.0 249.2 1425.0 250.0 C1430.0 250.8 1435.7 251.1 1440.0 250.5 C1444.3 249.9 1448.1 248.3 1451.1 246.4 C1454.1 244.5 1456.1 241.6 1458.2 239.0 C1460.3 236.4 1462.0 234.2 1463.9 231.0 C1465.8 227.8 1467.7 223.7 1469.6 219.7 C1471.5 215.7 1473.4 211.2 1475.3 206.9 C1477.2 202.6 1478.9 198.5 1481.0 194.0 C1483.1 189.5 1485.7 184.5 1488.1 179.8 C1490.5 175.1 1492.8 170.1 1495.2 165.6 C1497.6 161.1 1499.8 157.1 1502.3 152.8 C1504.8 148.5 1507.7 143.6 1510.0 140.0 C1512.3 136.4 1513.8 134.1 1516.0 131.5 C1518.2 128.9 1520.3 126.8 1523.5 124.5 C1526.7 122.2 1530.6 119.2 1535.0 117.5 C1539.4 115.8 1544.2 115.2 1550.0 114.5 C1555.8 113.8 1562.5 113.4 1570.0 113.0 C1577.5 112.6 1586.7 112.5 1595.0 112.3 C1603.3 112.0 1612.1 111.8 1620.0 111.5 C1627.9 111.2 1637.8 110.7 1642.5 110.5 C1647.2 110.3 1647.1 110.3 1648.0 110.3"/>
<path class="k" d="M1397.0 11.0 C1397.1 11.8 1397.0 12.4 1397.5 16.0 C1398.0 19.6 1399.7 27.3 1400.0 32.5 C1400.3 37.7 1399.8 42.8 1399.5 47.0 C1399.2 51.2 1398.8 54.3 1398.0 58.0 C1397.2 61.7 1396.6 65.8 1395.0 69.0 C1393.4 72.2 1391.0 74.8 1388.5 77.0 C1386.0 79.2 1383.9 80.1 1380.0 82.0 C1376.1 83.9 1371.2 86.0 1365.0 88.5 C1358.8 91.0 1349.5 93.8 1343.0 97.0 C1336.5 100.2 1330.8 104.0 1326.0 108.0 C1321.2 112.0 1317.4 116.7 1314.0 121.0 C1310.6 125.3 1308.0 129.2 1305.5 134.0 C1303.0 138.8 1301.2 144.4 1299.0 150.0 C1296.8 155.6 1294.3 162.1 1292.0 167.5 C1289.7 172.9 1287.0 177.5 1285.0 182.5 C1283.0 187.5 1281.9 192.5 1280.0 197.5 C1278.1 202.5 1275.3 207.9 1273.8 212.5 C1272.3 217.1 1271.0 220.8 1271.0 225.0 C1271.0 229.2 1271.9 234.4 1273.8 237.5 C1275.7 240.6 1279.0 243.2 1282.5 243.8 C1286.0 244.4 1290.4 242.5 1295.0 241.0 C1299.6 239.5 1305.0 237.2 1310.0 235.0 C1315.0 232.8 1319.6 229.8 1325.0 227.5 C1330.4 225.2 1336.7 222.7 1342.5 221.0 C1348.3 219.3 1353.8 218.7 1360.0 217.5 C1366.2 216.3 1374.3 214.6 1380.0 214.0 C1385.7 213.4 1389.9 213.7 1394.2 214.0 C1398.5 214.3 1401.8 215.4 1405.6 216.1 C1409.4 216.8 1413.2 218.0 1417.0 218.2 C1420.8 218.4 1424.6 218.4 1428.4 217.5 C1432.2 216.6 1436.4 214.5 1439.7 212.5 C1443.0 210.5 1445.5 208.2 1448.3 205.4 C1451.1 202.6 1454.0 199.1 1456.8 195.5 C1459.6 191.9 1462.4 188.4 1465.3 184.1 C1468.2 179.8 1471.3 174.4 1473.9 169.9 C1476.5 165.4 1478.9 160.9 1481.0 157.1 C1483.1 153.3 1485.0 149.9 1486.7 147.1 C1488.5 144.2 1489.6 143.2 1491.5 140.0 C1493.4 136.8 1495.7 132.1 1498.0 128.2 C1500.3 124.3 1502.6 120.3 1505.2 116.8 C1507.8 113.2 1510.6 109.5 1513.7 106.9 C1516.8 104.3 1520.4 102.6 1523.7 101.2 C1527.0 99.8 1529.8 99.0 1533.6 98.3 C1537.4 97.6 1541.2 97.2 1546.4 96.9 C1551.6 96.6 1558.6 96.5 1565.0 96.3 C1571.4 96.1 1577.5 96.1 1585.0 96.0 C1592.5 95.9 1602.5 95.9 1610.0 95.5 C1617.5 95.1 1624.6 94.2 1630.0 93.5 C1635.4 92.8 1639.5 91.9 1642.5 91.5 C1645.5 91.1 1647.1 91.1 1648.0 91.0"/>
<path class="k" d="M1434.0 11.0 C1433.7 11.8 1433.0 13.2 1432.0 16.0 C1431.0 18.8 1429.3 24.0 1428.0 28.0 C1426.7 32.0 1425.1 36.1 1424.0 40.0 C1422.9 43.9 1422.5 47.4 1421.3 51.4 C1420.1 55.4 1419.2 59.0 1417.0 64.2 C1414.8 69.4 1412.0 77.2 1408.4 82.7 C1404.8 88.2 1400.3 92.9 1395.6 96.9 C1390.9 101.0 1384.6 103.9 1380.0 107.0 C1375.4 110.1 1371.6 112.6 1367.9 115.4 C1364.2 118.2 1360.8 121.1 1357.9 123.9 C1355.1 126.8 1352.5 129.3 1350.8 132.5 C1349.1 135.7 1348.3 139.2 1347.5 143.0 C1346.7 146.8 1345.6 151.7 1346.0 155.0 C1346.4 158.3 1348.1 160.4 1350.0 163.0 C1351.9 165.6 1354.2 167.9 1357.5 170.5 C1360.8 173.1 1366.2 176.6 1370.0 178.8 C1373.8 181.1 1376.0 182.6 1380.0 184.0 C1384.0 185.4 1389.5 186.4 1394.2 187.0 C1398.9 187.6 1403.7 188.1 1408.4 187.7 C1413.2 187.3 1418.0 186.4 1422.7 184.8 C1427.5 183.2 1432.6 180.9 1436.9 178.4 C1441.2 175.9 1444.5 173.3 1448.3 169.9 C1452.1 166.5 1457.4 160.6 1460.0 157.9 C1462.6 155.2 1462.5 155.8 1464.0 153.9 C1465.5 152.0 1467.2 149.3 1468.8 146.7 C1470.4 144.0 1472.0 140.8 1473.5 138.0 C1475.0 135.2 1476.2 132.6 1477.5 130.0 C1478.8 127.4 1479.7 125.7 1481.5 122.5 C1483.3 119.3 1485.6 114.9 1488.1 111.1 C1490.6 107.3 1493.5 103.0 1496.6 99.7 C1499.7 96.4 1503.3 93.6 1506.6 91.2 C1509.9 88.8 1513.0 86.8 1516.6 85.5 C1520.1 84.2 1523.4 83.9 1527.9 83.4 C1532.4 82.9 1537.4 82.7 1543.6 82.7 C1549.8 82.7 1558.1 83.6 1565.0 83.5 C1571.9 83.4 1577.5 82.8 1585.0 82.0 C1592.5 81.2 1602.5 79.9 1610.0 78.5 C1617.5 77.1 1624.6 74.9 1630.0 73.5 C1635.4 72.1 1639.5 70.8 1642.5 70.0 C1645.5 69.2 1647.1 68.8 1648.0 68.5"/>
<path class="k" d="M1458.0 11.0 C1457.9 11.8 1458.2 12.8 1457.5 16.0 C1456.8 19.2 1455.5 26.0 1454.0 30.0 C1452.5 34.0 1450.2 36.9 1448.3 40.0 C1446.4 43.1 1444.5 45.4 1442.6 48.5 C1440.7 51.6 1438.6 54.7 1436.9 58.5 C1435.2 62.3 1434.0 67.0 1432.6 71.3 C1431.2 75.6 1430.1 79.8 1428.4 84.1 C1426.8 88.4 1425.1 92.9 1422.7 96.9 C1420.3 100.9 1417.2 104.8 1414.1 108.3 C1411.0 111.8 1407.3 114.9 1404.2 118.2 C1401.1 121.5 1397.2 125.0 1395.6 128.2 C1394.0 131.4 1393.1 134.3 1394.5 137.5 C1395.9 140.7 1400.0 145.2 1403.8 147.5 C1407.6 149.8 1412.7 151.0 1417.5 151.0 C1422.3 151.0 1427.9 149.3 1432.5 147.5 C1437.1 145.7 1441.4 143.2 1445.0 140.0 C1448.6 136.8 1451.1 132.1 1454.0 128.2 C1456.9 124.3 1459.7 120.6 1462.5 116.8 C1465.3 113.0 1468.2 109.2 1471.0 105.4 C1473.8 101.6 1476.5 97.5 1479.6 94.0 C1482.7 90.5 1486.0 87.2 1489.5 84.1 C1493.0 81.0 1496.6 77.7 1500.9 75.6 C1505.2 73.5 1510.3 72.2 1515.1 71.3 C1519.8 70.3 1524.7 70.2 1529.4 69.9 C1534.2 69.6 1539.3 69.4 1543.6 69.2 C1547.9 69.0 1551.0 69.2 1555.3 69.0 C1559.6 68.8 1564.8 68.9 1569.6 68.3 C1574.3 67.7 1579.1 66.7 1583.8 65.5 C1588.5 64.3 1593.3 62.6 1598.0 61.2 C1602.7 59.8 1608.4 58.3 1612.2 56.9 C1616.0 55.5 1618.2 54.6 1620.8 52.7 C1623.4 50.8 1625.8 48.5 1627.9 45.6 C1630.0 42.8 1631.9 39.2 1633.6 35.6 C1635.3 32.0 1636.8 27.5 1637.9 24.2 C1639.1 20.9 1639.8 18.4 1640.5 16.0 C1641.2 13.6 1641.8 11.0 1642.0 10.0"/>
</g>
<path class="g" d="M1150.5 15.5 V583.0"/>
<path class="g" d="M1273.0 15.5 V583.0"/>
<path class="g" d="M1395.6 15.5 V583.0"/>
<path class="g" d="M1518.0 15.5 V583.0"/>
<path class="g" d="M1028.0 128.9 H1641.5"/>
<path class="g" d="M1028.0 242.2 H1641.5"/>
<path class="g" d="M1028.0 355.6 H1641.5"/>
<path class="g" d="M1028.0 468.9 H1641.5"/>
<g clip-path="url(#cpb)">
<text class="c" text-anchor="middle" transform="translate(1211.0 84.0) rotate(-55) scale(1 1)" y="7.5">2.3</text>
<text class="c" text-anchor="middle" transform="translate(1236.0 107.5) rotate(-60) scale(1 1)" y="7.5">2.5</text>
<text class="c" text-anchor="middle" transform="translate(1319.0 48.5) rotate(-35) scale(1 1)" y="7.5">2.6</text>
<text class="c" text-anchor="middle" transform="translate(1349.0 64.0) rotate(-35) scale(1 1)" y="7.5">2.7</text>
<text class="c" text-anchor="middle" transform="translate(1397.5 44.0) rotate(85) scale(1 1)" y="7.5">2.8</text>
<text class="c" text-anchor="middle" transform="translate(1428.0 49.0) rotate(-78) scale(1 1)" y="7.5">2.9</text>
<text class="c" text-anchor="middle" transform="translate(1459.0 26.0) rotate(-75) scale(1 1)" y="7.5">3</text>
<text class="c" text-anchor="middle" transform="translate(1464.0 125.0) rotate(-55) scale(1 1)" y="7.5">3</text>
<text class="c" text-anchor="middle" transform="translate(1635.0 35.0) rotate(-60) scale(1 1)" y="7.5">3</text>
<text class="c" text-anchor="middle" transform="translate(1572.5 85.0) rotate(5) scale(1 1)" y="7.5">2.9</text>
<text class="c" text-anchor="middle" transform="translate(1587.5 99.0) rotate(3) scale(1 1)" y="7.5">2.8</text>
<text class="c" text-anchor="middle" transform="translate(1498.0 165.0) rotate(-60) scale(1 1)" y="7.5">2.7</text>
<text class="c" text-anchor="middle" transform="translate(1531.0 152.0) rotate(-50) scale(1 1)" y="7.5">2.6</text>
<text class="c" text-anchor="middle" transform="translate(1567.5 160.0) rotate(-20) scale(1 1)" y="7.5">2.5</text>
<text class="c" text-anchor="middle" transform="translate(1538.0 228.0) rotate(-45) scale(1 1)" y="7.5">2.3</text>
<text class="c" text-anchor="middle" transform="translate(1407.5 191.0) rotate(0) scale(1 1)" y="7.5">2.9</text>
<text class="c" text-anchor="middle" transform="translate(1434.0 218.0) rotate(-20) scale(1 1)" y="7.5">2.8</text>
<text class="c" text-anchor="middle" transform="translate(1281.0 206.0) rotate(-70) scale(1 1)" y="7.5">2.8</text>
<text class="c" text-anchor="middle" transform="translate(1222.5 230.0) rotate(-60) scale(1 1)" y="7.5">2.7</text>
<text class="c" text-anchor="middle" transform="translate(1347.5 274.0) rotate(-35) scale(1 1)" y="7.5">2.7</text>
<text class="c" text-anchor="middle" transform="translate(1192.5 216.0) rotate(-50) scale(1 1)" y="7.5">2.6</text>
<text class="c" text-anchor="middle" transform="translate(1077.5 236.0) rotate(-50) scale(1 1)" y="7.5">2.5</text>
<text class="c" text-anchor="middle" transform="translate(1052.5 219.0) rotate(-45) scale(1 1)" y="7.5">2.3</text>
<text class="c" text-anchor="middle" transform="translate(1081.0 342.5) rotate(65) scale(1 1)" y="7.5">2.6</text>
<text class="c" text-anchor="middle" transform="translate(1171.0 349.0) rotate(-50) scale(1 1)" y="7.5">2.7</text>
<text class="c" text-anchor="middle" transform="translate(1209.0 366.0) rotate(-40) scale(1 1)" y="7.5">2.6</text>
<text class="c" text-anchor="middle" transform="translate(1251.0 374.0) rotate(-40) scale(1 1)" y="7.5">2.5</text>
<text class="c" text-anchor="middle" transform="translate(1400.0 315.0) rotate(-40) scale(1 1)" y="7.5">2.6</text>
<text class="c" text-anchor="middle" transform="translate(1436.0 324.0) rotate(-50) scale(1 1)" y="7.5">2.5</text>
<text class="c" text-anchor="middle" transform="translate(1406.0 392.0) rotate(-15) scale(1 1)" y="7.5">2.3</text>
<text class="c" text-anchor="middle" transform="translate(1066.0 455.0) rotate(-25) scale(1 1)" y="7.5">2.5</text>
<text class="c" text-anchor="middle" transform="translate(1047.5 535.0) rotate(5) scale(1 1)" y="7.5">2.3</text>
<text class="c" text-anchor="middle" transform="translate(1227.5 473.0) rotate(5) scale(1 1)" y="7.5">2.3</text>
<text class="c" text-anchor="middle" transform="translate(1326.0 567.5) rotate(-20) scale(1 1)" y="7.5">1.8</text>
<text class="c" text-anchor="middle" transform="translate(1496.0 452.5) rotate(-40) scale(1 1)" y="7.5">1.8</text>
<text class="c" text-anchor="middle" transform="translate(1510.0 537.5) rotate(-55) scale(1 1)" y="7.5">1.3</text>
</g>
<path d="M1028.5 15.0 V584.0 M1027.5 16.0 H1642.5" stroke="#000" stroke-width="2" fill="none"/>
<path d="M1641.0 15.0 V584.0 M1027.5 582.5 H1642.5" stroke="#000" stroke-width="3" fill="none"/>
<rect shape-rendering="crispEdges" x="769.0" y="575.12" width="46.0" height="9.48" fill="#00008f"/>
<rect shape-rendering="crispEdges" x="769.0" y="566.23" width="46.0" height="9.48" fill="#00009f"/>
<rect shape-rendering="crispEdges" x="769.0" y="557.35" width="46.0" height="9.48" fill="#0000af"/>
<rect shape-rendering="crispEdges" x="769.0" y="548.47" width="46.0" height="9.48" fill="#0000bf"/>
<rect shape-rendering="crispEdges" x="769.0" y="539.59" width="46.0" height="9.48" fill="#0000cf"/>
<rect shape-rendering="crispEdges" x="769.0" y="530.70" width="46.0" height="9.48" fill="#0000df"/>
<rect shape-rendering="crispEdges" x="769.0" y="521.82" width="46.0" height="9.48" fill="#0000ef"/>
<rect shape-rendering="crispEdges" x="769.0" y="512.94" width="46.0" height="9.48" fill="#0000ff"/>
<rect shape-rendering="crispEdges" x="769.0" y="504.05" width="46.0" height="9.48" fill="#0010ff"/>
<rect shape-rendering="crispEdges" x="769.0" y="495.17" width="46.0" height="9.48" fill="#0020ff"/>
<rect shape-rendering="crispEdges" x="769.0" y="486.29" width="46.0" height="9.48" fill="#0030ff"/>
<rect shape-rendering="crispEdges" x="769.0" y="477.41" width="46.0" height="9.48" fill="#0040ff"/>
<rect shape-rendering="crispEdges" x="769.0" y="468.52" width="46.0" height="9.48" fill="#0050ff"/>
<rect shape-rendering="crispEdges" x="769.0" y="459.64" width="46.0" height="9.48" fill="#0060ff"/>
<rect shape-rendering="crispEdges" x="769.0" y="450.76" width="46.0" height="9.48" fill="#0070ff"/>
<rect shape-rendering="crispEdges" x="769.0" y="441.88" width="46.0" height="9.48" fill="#0080ff"/>
<rect shape-rendering="crispEdges" x="769.0" y="432.99" width="46.0" height="9.48" fill="#008fff"/>
<rect shape-rendering="crispEdges" x="769.0" y="424.11" width="46.0" height="9.48" fill="#009fff"/>
<rect shape-rendering="crispEdges" x="769.0" y="415.23" width="46.0" height="9.48" fill="#00afff"/>
<rect shape-rendering="crispEdges" x="769.0" y="406.34" width="46.0" height="9.48" fill="#00bfff"/>
<rect shape-rendering="crispEdges" x="769.0" y="397.46" width="46.0" height="9.48" fill="#00cfff"/>
<rect shape-rendering="crispEdges" x="769.0" y="388.58" width="46.0" height="9.48" fill="#00dfff"/>
<rect shape-rendering="crispEdges" x="769.0" y="379.70" width="46.0" height="9.48" fill="#00efff"/>
<rect shape-rendering="crispEdges" x="769.0" y="370.81" width="46.0" height="9.48" fill="#00ffff"/>
<rect shape-rendering="crispEdges" x="769.0" y="361.93" width="46.0" height="9.48" fill="#10ffef"/>
<rect shape-rendering="crispEdges" x="769.0" y="353.05" width="46.0" height="9.48" fill="#20ffdf"/>
<rect shape-rendering="crispEdges" x="769.0" y="344.16" width="46.0" height="9.48" fill="#30ffcf"/>
<rect shape-rendering="crispEdges" x="769.0" y="335.28" width="46.0" height="9.48" fill="#40ffbf"/>
<rect shape-rendering="crispEdges" x="769.0" y="326.40" width="46.0" height="9.48" fill="#50ffaf"/>
<rect shape-rendering="crispEdges" x="769.0" y="317.52" width="46.0" height="9.48" fill="#60ff9f"/>
<rect shape-rendering="crispEdges" x="769.0" y="308.63" width="46.0" height="9.48" fill="#70ff8f"/>
<rect shape-rendering="crispEdges" x="769.0" y="299.75" width="46.0" height="9.48" fill="#80ff80"/>
<rect shape-rendering="crispEdges" x="769.0" y="290.87" width="46.0" height="9.48" fill="#8fff70"/>
<rect shape-rendering="crispEdges" x="769.0" y="281.98" width="46.0" height="9.48" fill="#9fff60"/>
<rect shape-rendering="crispEdges" x="769.0" y="273.10" width="46.0" height="9.48" fill="#afff50"/>
<rect shape-rendering="crispEdges" x="769.0" y="264.22" width="46.0" height="9.48" fill="#bfff40"/>
<rect shape-rendering="crispEdges" x="769.0" y="255.34" width="46.0" height="9.48" fill="#cfff30"/>
<rect shape-rendering="crispEdges" x="769.0" y="246.45" width="46.0" height="9.48" fill="#dfff20"/>
<rect shape-rendering="crispEdges" x="769.0" y="237.57" width="46.0" height="9.48" fill="#efff10"/>
<rect shape-rendering="crispEdges" x="769.0" y="228.69" width="46.0" height="9.48" fill="#ffff00"/>
<rect shape-rendering="crispEdges" x="769.0" y="219.80" width="46.0" height="9.48" fill="#ffef00"/>
<rect shape-rendering="crispEdges" x="769.0" y="210.92" width="46.0" height="9.48" fill="#ffdf00"/>
<rect shape-rendering="crispEdges" x="769.0" y="202.04" width="46.0" height="9.48" fill="#ffcf00"/>
<rect shape-rendering="crispEdges" x="769.0" y="193.16" width="46.0" height="9.48" fill="#ffbf00"/>
<rect shape-rendering="crispEdges" x="769.0" y="184.27" width="46.0" height="9.48" fill="#ffaf00"/>
<rect shape-rendering="crispEdges" x="769.0" y="175.39" width="46.0" height="9.48" fill="#ff9f00"/>
<rect shape-rendering="crispEdges" x="769.0" y="166.51" width="46.0" height="9.48" fill="#ff8f00"/>
<rect shape-rendering="crispEdges" x="769.0" y="157.62" width="46.0" height="9.48" fill="#ff8000"/>
<rect shape-rendering="crispEdges" x="769.0" y="148.74" width="46.0" height="9.48" fill="#ff7000"/>
<rect shape-rendering="crispEdges" x="769.0" y="139.86" width="46.0" height="9.48" fill="#ff6000"/>
<rect shape-rendering="crispEdges" x="769.0" y="130.98" width="46.0" height="9.48" fill="#ff5000"/>
<rect shape-rendering="crispEdges" x="769.0" y="122.09" width="46.0" height="9.48" fill="#ff4000"/>
<rect shape-rendering="crispEdges" x="769.0" y="113.21" width="46.0" height="9.48" fill="#ff3000"/>
<rect shape-rendering="crispEdges" x="769.0" y="104.33" width="46.0" height="9.48" fill="#ff2000"/>
<rect shape-rendering="crispEdges" x="769.0" y="95.45" width="46.0" height="9.48" fill="#ff1000"/>
<rect shape-rendering="crispEdges" x="769.0" y="86.56" width="46.0" height="9.48" fill="#ff0000"/>
<rect shape-rendering="crispEdges" x="769.0" y="77.68" width="46.0" height="9.48" fill="#ef0000"/>
<rect shape-rendering="crispEdges" x="769.0" y="68.80" width="46.0" height="9.48" fill="#df0000"/>
<rect shape-rendering="crispEdges" x="769.0" y="59.91" width="46.0" height="9.48" fill="#cf0000"/>
<rect shape-rendering="crispEdges" x="769.0" y="51.03" width="46.0" height="9.48" fill="#bf0000"/>
<rect shape-rendering="crispEdges" x="769.0" y="42.15" width="46.0" height="9.48" fill="#af0000"/>
<rect shape-rendering="crispEdges" x="769.0" y="33.27" width="46.0" height="9.48" fill="#9f0000"/>
<rect shape-rendering="crispEdges" x="769.0" y="24.38" width="46.0" height="9.48" fill="#8f0000"/>
<rect shape-rendering="crispEdges" x="769.0" y="15.50" width="46.0" height="9.48" fill="#800000"/>
<rect x="769.0" y="15.5" width="46.0" height="568.5" fill="none" stroke="#111" stroke-width="1.3"/>
<path d="M769.0 574.8 h6 M815.0 574.8 h-6" stroke="#111" stroke-width="1"/>
<text class="t" transform="translate(819.5 584.8) scale(0.951 1)">3.6</text>
<path d="M769.0 481.2 h6 M815.0 481.2 h-6" stroke="#111" stroke-width="1"/>
<text class="t" transform="translate(819.5 491.2) scale(0.951 1)">3.8</text>
<path d="M769.0 387.7 h6 M815.0 387.7 h-6" stroke="#111" stroke-width="1"/>
<text class="t" transform="translate(819.5 397.7) scale(0.951 1)">4</text>
<path d="M769.0 294.2 h6 M815.0 294.2 h-6" stroke="#111" stroke-width="1"/>
<text class="t" transform="translate(819.5 304.2) scale(0.951 1)">4.2</text>
<path d="M769.0 200.7 h6 M815.0 200.7 h-6" stroke="#111" stroke-width="1"/>
<text class="t" transform="translate(819.5 210.7) scale(0.951 1)">4.4</text>
<path d="M769.0 107.2 h6 M815.0 107.2 h-6" stroke="#111" stroke-width="1"/>
<text class="t" transform="translate(819.5 117.2) scale(0.951 1)">4.6</text>
<rect shape-rendering="crispEdges" x="1676.0" y="575.12" width="46.0" height="9.48" fill="#00008f"/>
<rect shape-rendering="crispEdges" x="1676.0" y="566.23" width="46.0" height="9.48" fill="#00009f"/>
<rect shape-rendering="crispEdges" x="1676.0" y="557.35" width="46.0" height="9.48" fill="#0000af"/>
<rect shape-rendering="crispEdges" x="1676.0" y="548.47" width="46.0" height="9.48" fill="#0000bf"/>
<rect shape-rendering="crispEdges" x="1676.0" y="539.59" width="46.0" height="9.48" fill="#0000cf"/>
<rect shape-rendering="crispEdges" x="1676.0" y="530.70" width="46.0" height="9.48" fill="#0000df"/>
<rect shape-rendering="crispEdges" x="1676.0" y="521.82" width="46.0" height="9.48" fill="#0000ef"/>
<rect shape-rendering="crispEdges" x="1676.0" y="512.94" width="46.0" height="9.48" fill="#0000ff"/>
<rect shape-rendering="crispEdges" x="1676.0" y="504.05" width="46.0" height="9.48" fill="#0010ff"/>
<rect shape-rendering="crispEdges" x="1676.0" y="495.17" width="46.0" height="9.48" fill="#0020ff"/>
<rect shape-rendering="crispEdges" x="1676.0" y="486.29" width="46.0" height="9.48" fill="#0030ff"/>
<rect shape-rendering="crispEdges" x="1676.0" y="477.41" width="46.0" height="9.48" fill="#0040ff"/>
<rect shape-rendering="crispEdges" x="1676.0" y="468.52" width="46.0" height="9.48" fill="#0050ff"/>
<rect shape-rendering="crispEdges" x="1676.0" y="459.64" width="46.0" height="9.48" fill="#0060ff"/>
<rect shape-rendering="crispEdges" x="1676.0" y="450.76" width="46.0" height="9.48" fill="#0070ff"/>
<rect shape-rendering="crispEdges" x="1676.0" y="441.88" width="46.0" height="9.48" fill="#0080ff"/>
<rect shape-rendering="crispEdges" x="1676.0" y="432.99" width="46.0" height="9.48" fill="#008fff"/>
<rect shape-rendering="crispEdges" x="1676.0" y="424.11" width="46.0" height="9.48" fill="#009fff"/>
<rect shape-rendering="crispEdges" x="1676.0" y="415.23" width="46.0" height="9.48" fill="#00afff"/>
<rect shape-rendering="crispEdges" x="1676.0" y="406.34" width="46.0" height="9.48" fill="#00bfff"/>
<rect shape-rendering="crispEdges" x="1676.0" y="397.46" width="46.0" height="9.48" fill="#00cfff"/>
<rect shape-rendering="crispEdges" x="1676.0" y="388.58" width="46.0" height="9.48" fill="#00dfff"/>
<rect shape-rendering="crispEdges" x="1676.0" y="379.70" width="46.0" height="9.48" fill="#00efff"/>
<rect shape-rendering="crispEdges" x="1676.0" y="370.81" width="46.0" height="9.48" fill="#00ffff"/>
<rect shape-rendering="crispEdges" x="1676.0" y="361.93" width="46.0" height="9.48" fill="#10ffef"/>
<rect shape-rendering="crispEdges" x="1676.0" y="353.05" width="46.0" height="9.48" fill="#20ffdf"/>
<rect shape-rendering="crispEdges" x="1676.0" y="344.16" width="46.0" height="9.48" fill="#30ffcf"/>
<rect shape-rendering="crispEdges" x="1676.0" y="335.28" width="46.0" height="9.48" fill="#40ffbf"/>
<rect shape-rendering="crispEdges" x="1676.0" y="326.40" width="46.0" height="9.48" fill="#50ffaf"/>
<rect shape-rendering="crispEdges" x="1676.0" y="317.52" width="46.0" height="9.48" fill="#60ff9f"/>
<rect shape-rendering="crispEdges" x="1676.0" y="308.63" width="46.0" height="9.48" fill="#70ff8f"/>
<rect shape-rendering="crispEdges" x="1676.0" y="299.75" width="46.0" height="9.48" fill="#80ff80"/>
<rect shape-rendering="crispEdges" x="1676.0" y="290.87" width="46.0" height="9.48" fill="#8fff70"/>
<rect shape-rendering="crispEdges" x="1676.0" y="281.98" width="46.0" height="9.48" fill="#9fff60"/>
<rect shape-rendering="crispEdges" x="1676.0" y="273.10" width="46.0" height="9.48" fill="#afff50"/>
<rect shape-rendering="crispEdges" x="1676.0" y="264.22" width="46.0" height="9.48" fill="#bfff40"/>
<rect shape-rendering="crispEdges" x="1676.0" y="255.34" width="46.0" height="9.48" fill="#cfff30"/>
<rect shape-rendering="crispEdges" x="1676.0" y="246.45" width="46.0" height="9.48" fill="#dfff20"/>
<rect shape-rendering="crispEdges" x="1676.0" y="237.57" width="46.0" height="9.48" fill="#efff10"/>
<rect shape-rendering="crispEdges" x="1676.0" y="228.69" width="46.0" height="9.48" fill="#ffff00"/>
<rect shape-rendering="crispEdges" x="1676.0" y="219.80" width="46.0" height="9.48" fill="#ffef00"/>
<rect shape-rendering="crispEdges" x="1676.0" y="210.92" width="46.0" height="9.48" fill="#ffdf00"/>
<rect shape-rendering="crispEdges" x="1676.0" y="202.04" width="46.0" height="9.48" fill="#ffcf00"/>
<rect shape-rendering="crispEdges" x="1676.0" y="193.16" width="46.0" height="9.48" fill="#ffbf00"/>
<rect shape-rendering="crispEdges" x="1676.0" y="184.27" width="46.0" height="9.48" fill="#ffaf00"/>
<rect shape-rendering="crispEdges" x="1676.0" y="175.39" width="46.0" height="9.48" fill="#ff9f00"/>
<rect shape-rendering="crispEdges" x="1676.0" y="166.51" width="46.0" height="9.48" fill="#ff8f00"/>
<rect shape-rendering="crispEdges" x="1676.0" y="157.62" width="46.0" height="9.48" fill="#ff8000"/>
<rect shape-rendering="crispEdges" x="1676.0" y="148.74" width="46.0" height="9.48" fill="#ff7000"/>
<rect shape-rendering="crispEdges" x="1676.0" y="139.86" width="46.0" height="9.48" fill="#ff6000"/>
<rect shape-rendering="crispEdges" x="1676.0" y="130.98" width="46.0" height="9.48" fill="#ff5000"/>
<rect shape-rendering="crispEdges" x="1676.0" y="122.09" width="46.0" height="9.48" fill="#ff4000"/>
<rect shape-rendering="crispEdges" x="1676.0" y="113.21" width="46.0" height="9.48" fill="#ff3000"/>
<rect shape-rendering="crispEdges" x="1676.0" y="104.33" width="46.0" height="9.48" fill="#ff2000"/>
<rect shape-rendering="crispEdges" x="1676.0" y="95.45" width="46.0" height="9.48" fill="#ff1000"/>
<rect shape-rendering="crispEdges" x="1676.0" y="86.56" width="46.0" height="9.48" fill="#ff0000"/>
<rect shape-rendering="crispEdges" x="1676.0" y="77.68" width="46.0" height="9.48" fill="#ef0000"/>
<rect shape-rendering="crispEdges" x="1676.0" y="68.80" width="46.0" height="9.48" fill="#df0000"/>
<rect shape-rendering="crispEdges" x="1676.0" y="59.91" width="46.0" height="9.48" fill="#cf0000"/>
<rect shape-rendering="crispEdges" x="1676.0" y="51.03" width="46.0" height="9.48" fill="#bf0000"/>
<rect shape-rendering="crispEdges" x="1676.0" y="42.15" width="46.0" height="9.48" fill="#af0000"/>
<rect shape-rendering="crispEdges" x="1676.0" y="33.27" width="46.0" height="9.48" fill="#9f0000"/>
<rect shape-rendering="crispEdges" x="1676.0" y="24.38" width="46.0" height="9.48" fill="#8f0000"/>
<rect shape-rendering="crispEdges" x="1676.0" y="15.50" width="46.0" height="9.48" fill="#800000"/>
<rect x="1676.0" y="15.5" width="46.0" height="568.5" fill="none" stroke="#111" stroke-width="1.3"/>
<path d="M1676.0 581.5 h6 M1722.0 581.5 h-6" stroke="#111" stroke-width="1"/>
<text class="t" transform="translate(1726.5 591.5) scale(0.951 1)">1</text>
<path d="M1676.0 440.0 h6 M1722.0 440.0 h-6" stroke="#111" stroke-width="1"/>
<text class="t" transform="translate(1726.5 450.0) scale(0.951 1)">1.5</text>
<path d="M1676.0 298.5 h6 M1722.0 298.5 h-6" stroke="#111" stroke-width="1"/>
<text class="t" transform="translate(1726.5 308.5) scale(0.951 1)">2</text>
<path d="M1676.0 157.0 h6 M1722.0 157.0 h-6" stroke="#111" stroke-width="1"/>
<text class="t" transform="translate(1726.5 167.0) scale(0.951 1)">2.5</text>
<path d="M1676.0 15.8 h6 M1722.0 15.8 h-6" stroke="#111" stroke-width="1"/>
<text class="t" transform="translate(1726.5 25.8) scale(0.951 1)">3</text>
<text class="t" text-anchor="middle" transform="translate(122.5 616.2) scale(0.951 1)">0.39</text>
<text class="t" text-anchor="middle" transform="translate(245.0 616.2) scale(0.951 1)">0.4</text>
<text class="t" text-anchor="middle" transform="translate(367.3 616.2) scale(0.951 1)">0.41</text>
<text class="t" text-anchor="middle" transform="translate(489.8 616.2) scale(0.951 1)">0.42</text>
<text class="t" text-anchor="middle" transform="translate(612.2 616.2) scale(0.951 1)">0.43</text>
<text class="t" text-anchor="middle" transform="translate(734.0 616.2) scale(0.951 1)">0.44</text>
<text class="t" text-anchor="end" transform="translate(116.7 26.1) scale(0.951 1)">0.16</text>
<text class="t" text-anchor="end" transform="translate(116.7 139.4) scale(0.951 1)">0.15</text>
<text class="t" text-anchor="end" transform="translate(116.7 252.7) scale(0.951 1)">0.14</text>
<text class="t" text-anchor="end" transform="translate(116.7 366.1) scale(0.951 1)">0.13</text>
<text class="t" text-anchor="end" transform="translate(116.7 479.4) scale(0.951 1)">0.12</text>
<text class="t" text-anchor="end" transform="translate(116.7 592.7) scale(0.951 1)">0.11</text>
<text class="t" text-anchor="middle" transform="translate(1028.0 616.2) scale(0.951 1)">0.39</text>
<text class="t" text-anchor="middle" transform="translate(1150.5 616.2) scale(0.951 1)">0.4</text>
<text class="t" text-anchor="middle" transform="translate(1273.0 616.2) scale(0.951 1)">0.41</text>
<text class="t" text-anchor="middle" transform="translate(1395.6 616.2) scale(0.951 1)">0.42</text>
<text class="t" text-anchor="middle" transform="translate(1518.0 616.2) scale(0.951 1)">0.43</text>
<text class="t" text-anchor="middle" transform="translate(1640.6 616.2) scale(0.951 1)">0.44</text>
<text class="t" text-anchor="end" transform="translate(1022.7 26.1) scale(0.951 1)">0.16</text>
<text class="t" text-anchor="end" transform="translate(1022.7 139.4) scale(0.951 1)">0.15</text>
<text class="t" text-anchor="end" transform="translate(1022.7 252.7) scale(0.951 1)">0.14</text>
<text class="t" text-anchor="end" transform="translate(1022.7 366.1) scale(0.951 1)">0.13</text>
<text class="t" text-anchor="end" transform="translate(1022.7 479.4) scale(0.951 1)">0.12</text>
<text class="t" text-anchor="end" transform="translate(1022.7 592.7) scale(0.951 1)">0.11</text>
<text class="l" text-anchor="middle" transform="translate(428.0 651.5) scale(0.951 1)">Separation between Adjacent Grid Wires (d<tspan font-size="21.0" dx="1" dy="12.0">x</tspan><tspan dx="1.5" dy="-12.0">) in mm</tspan></text>
<text class="l" text-anchor="middle" transform="translate(27.0 300.0) rotate(-90) scale(0.951 1)">Separation from Cathode to Grid (d<tspan font-size="21.0" dx="1" dy="12.0">z</tspan><tspan dx="1.5" dy="-12.0">) in mm</tspan></text>
<text class="l" style="font-size:35.5px" text-anchor="middle" transform="translate(467.3 691.0)">(a)</text>
<text class="l" text-anchor="middle" transform="translate(1334.0 651.5) scale(0.951 1)">Separation between Adjacent Grid Wires (d<tspan font-size="21.0" dx="1" dy="12.0">x</tspan><tspan dx="1.5" dy="-12.0">) in mm</tspan></text>
<text class="l" text-anchor="middle" transform="translate(933.0 300.0) rotate(-90) scale(0.951 1)">Separation from Cathode to Grid (d<tspan font-size="21.0" dx="1" dy="12.0">z</tspan><tspan dx="1.5" dy="-12.0">) in mm</tspan></text>
<text class="l" style="font-size:35.5px" text-anchor="middle" transform="translate(1373.3 691.0)">(b)</text>
</svg></body></html>
